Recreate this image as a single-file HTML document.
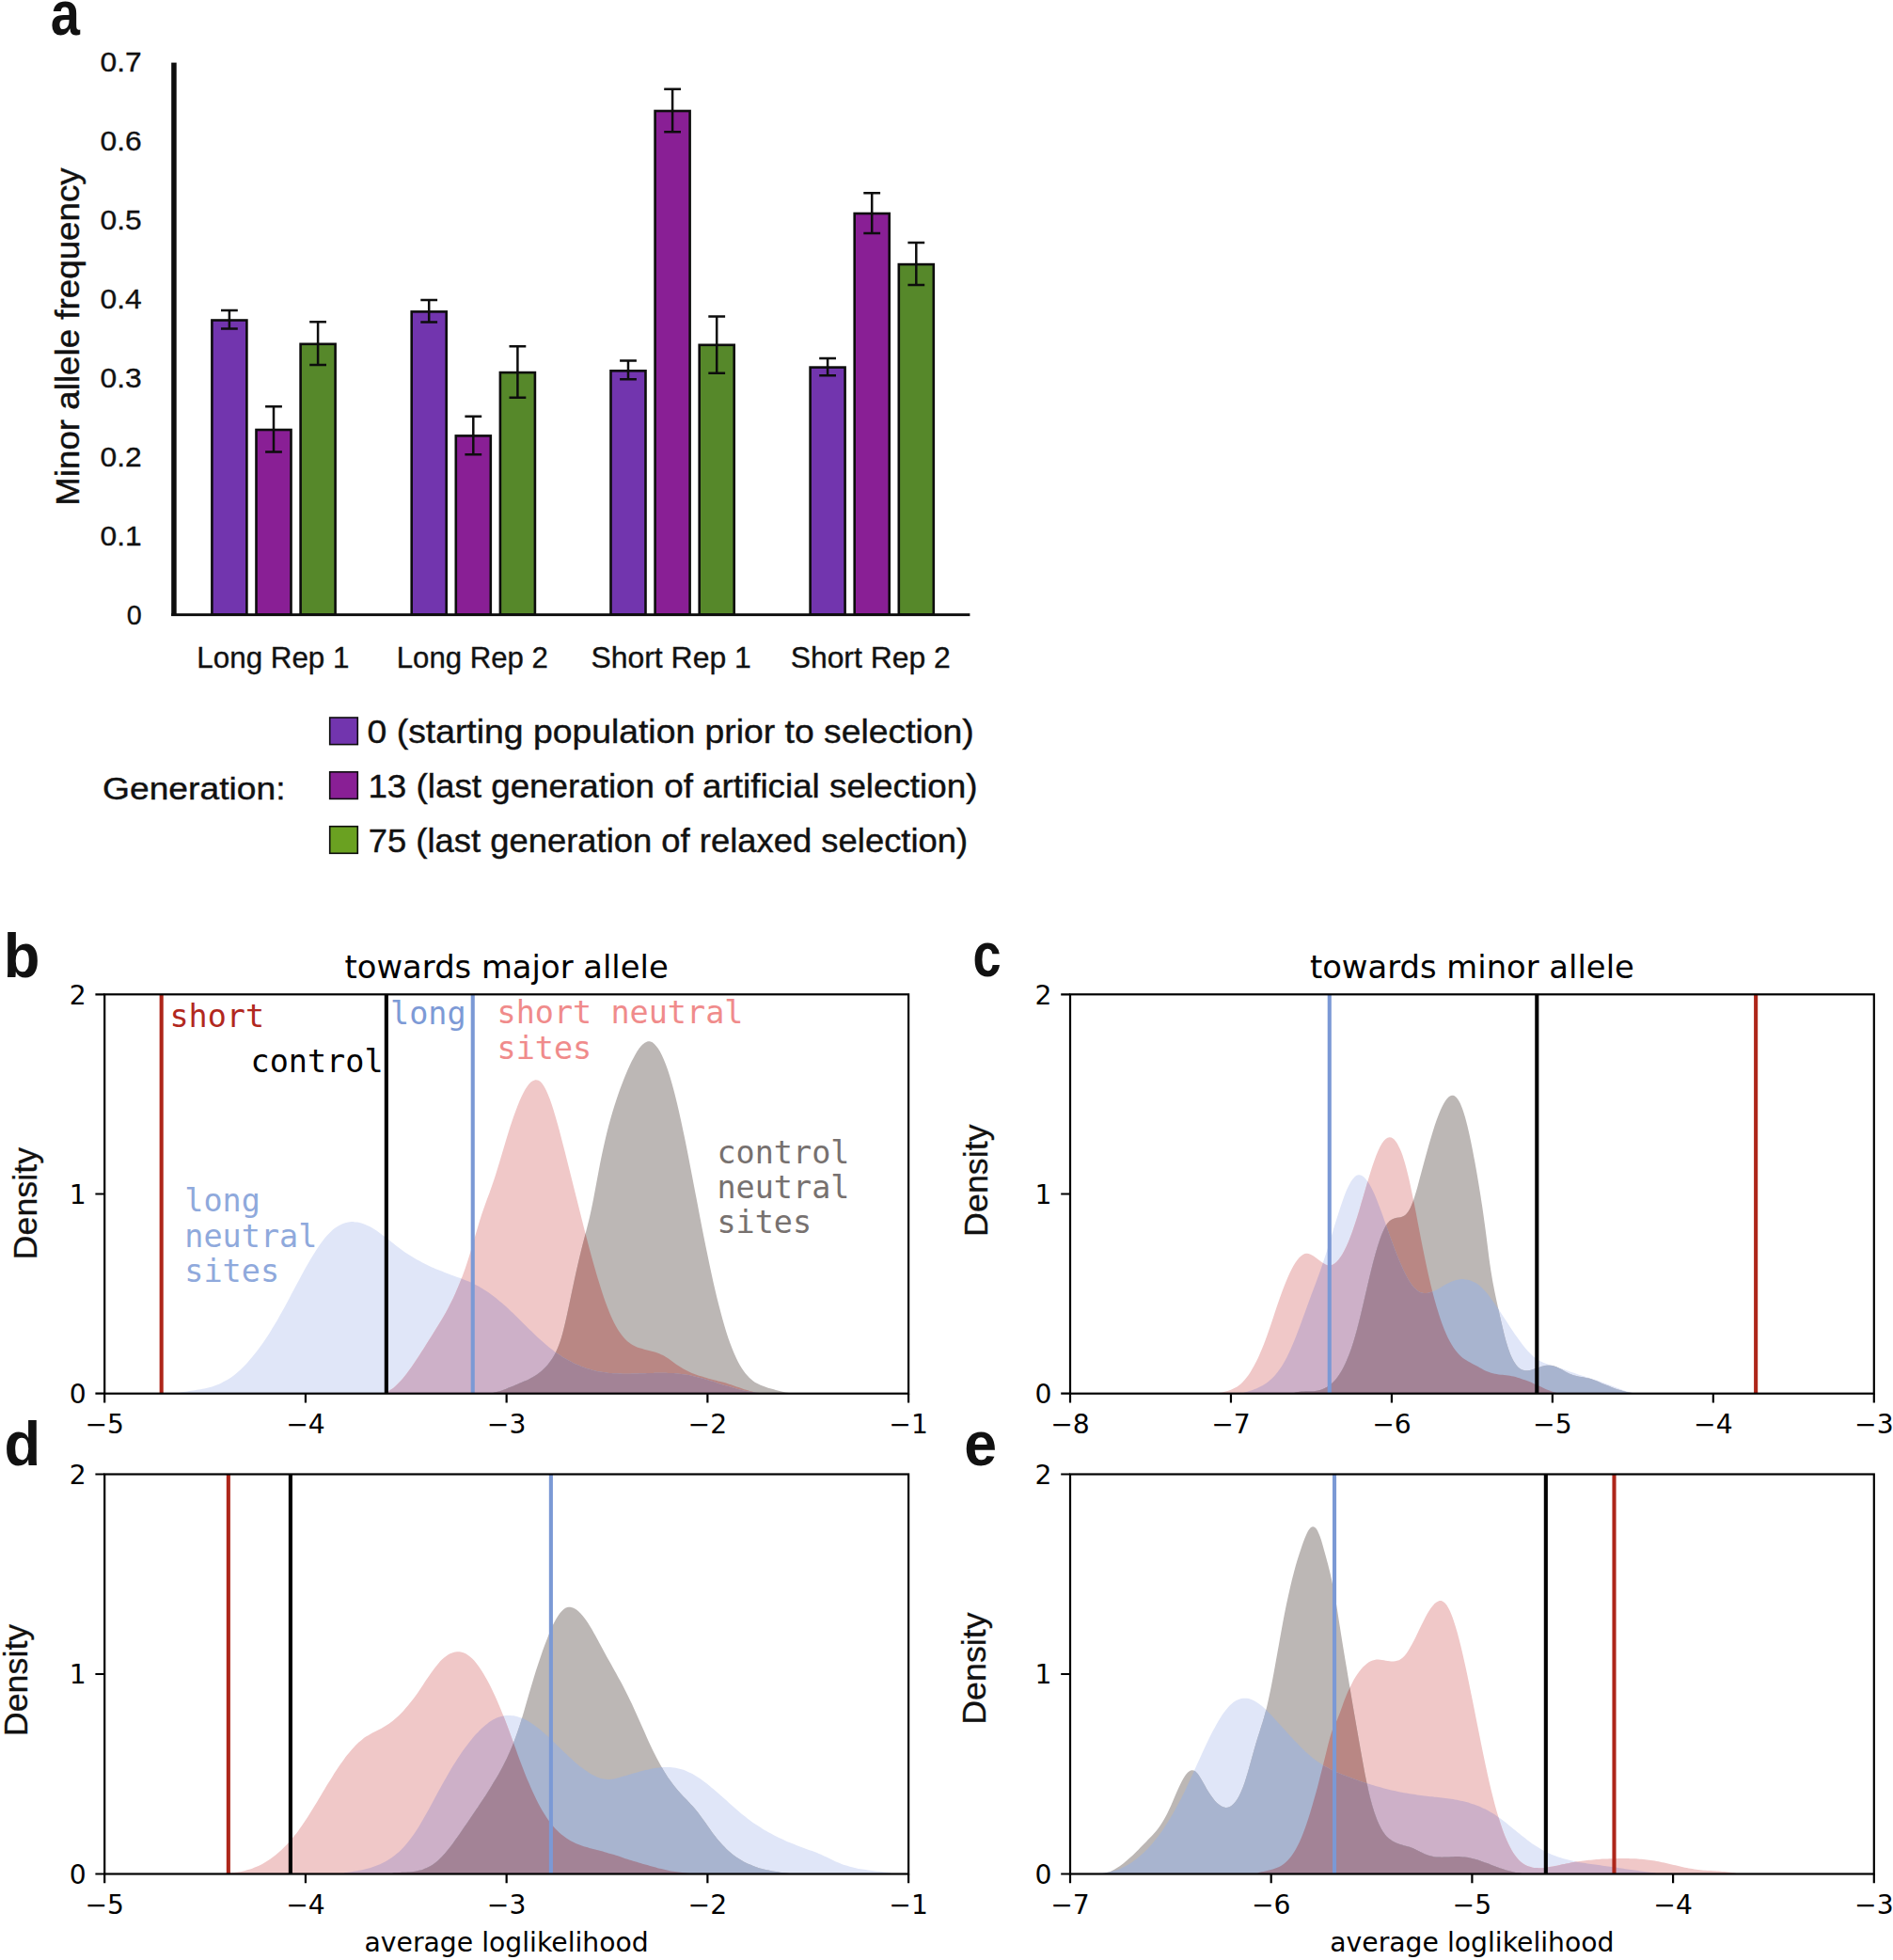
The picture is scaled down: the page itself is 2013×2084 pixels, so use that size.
<!DOCTYPE html>
<html lang="en">
<head>
<meta charset="utf-8">
<title>Minor allele frequency and loglikelihood density figure</title>
<style>
html,body{margin:0;padding:0;background:#fff;}
body{width:2013px;height:2084px;overflow:hidden;}
svg{display:block;}
text{white-space:pre;}
</style>
</head>
<body>
<svg width="2013" height="2084" viewBox="0 0 2013 2084">
<rect width="2013" height="2084" fill="#fff"/>
<g id="panel-a">
<rect x="225.4" y="340.5" width="37" height="313.1" fill="#7235AE" stroke="#0d0d0d" stroke-width="2.6"/>
<path d="M243.9 330.1V349.6M235 330.1H252.8M235 349.6H252.8" stroke="#0d0d0d" stroke-width="2.5" fill="none"/>
<rect x="272.5" y="457" width="37" height="196.6" fill="#891F95" stroke="#0d0d0d" stroke-width="2.6"/>
<path d="M291 432.3V480.6M282.1 432.3H299.9M282.1 480.6H299.9" stroke="#0d0d0d" stroke-width="2.5" fill="none"/>
<rect x="319.6" y="365.8" width="37" height="287.8" fill="#56882A" stroke="#0d0d0d" stroke-width="2.6"/>
<path d="M338.1 342.3V388M329.2 342.3H347M329.2 388H347" stroke="#0d0d0d" stroke-width="2.5" fill="none"/>
<rect x="437.7" y="331.4" width="37" height="322.2" fill="#7235AE" stroke="#0d0d0d" stroke-width="2.6"/>
<path d="M456.2 319.1V342.5M447.3 319.1H465.1M447.3 342.5H465.1" stroke="#0d0d0d" stroke-width="2.5" fill="none"/>
<rect x="484.8" y="463.4" width="37" height="190.2" fill="#891F95" stroke="#0d0d0d" stroke-width="2.6"/>
<path d="M503.3 442.8V483.3M494.4 442.8H512.2M494.4 483.3H512.2" stroke="#0d0d0d" stroke-width="2.5" fill="none"/>
<rect x="531.9" y="396.1" width="37" height="257.5" fill="#56882A" stroke="#0d0d0d" stroke-width="2.6"/>
<path d="M550.4 368.3V422.7M541.5 368.3H559.3M541.5 422.7H559.3" stroke="#0d0d0d" stroke-width="2.5" fill="none"/>
<rect x="649.5" y="394.3" width="37" height="259.3" fill="#7235AE" stroke="#0d0d0d" stroke-width="2.6"/>
<path d="M668 383.4V403.3M659.1 383.4H676.9M659.1 403.3H676.9" stroke="#0d0d0d" stroke-width="2.5" fill="none"/>
<rect x="696.6" y="118" width="37" height="535.6" fill="#891F95" stroke="#0d0d0d" stroke-width="2.6"/>
<path d="M715.1 94.8V140.2M706.2 94.8H724M706.2 140.2H724" stroke="#0d0d0d" stroke-width="2.5" fill="none"/>
<rect x="743.7" y="366.8" width="37" height="286.8" fill="#56882A" stroke="#0d0d0d" stroke-width="2.6"/>
<path d="M762.2 336.4V396.8M753.3 336.4H771.1M753.3 396.8H771.1" stroke="#0d0d0d" stroke-width="2.5" fill="none"/>
<rect x="861.6" y="390.6" width="37" height="263" fill="#7235AE" stroke="#0d0d0d" stroke-width="2.6"/>
<path d="M880.1 380.9V399.2M871.2 380.9H889M871.2 399.2H889" stroke="#0d0d0d" stroke-width="2.5" fill="none"/>
<rect x="908.7" y="227" width="37" height="426.6" fill="#891F95" stroke="#0d0d0d" stroke-width="2.6"/>
<path d="M927.2 205.2V248M918.3 205.2H936.1M918.3 248H936.1" stroke="#0d0d0d" stroke-width="2.5" fill="none"/>
<rect x="955.8" y="281.1" width="37" height="372.5" fill="#56882A" stroke="#0d0d0d" stroke-width="2.6"/>
<path d="M974.3 258V302.9M965.4 258H983.2M965.4 302.9H983.2" stroke="#0d0d0d" stroke-width="2.5" fill="none"/>
<rect x="182.2" y="66.6" width="5.5" height="588.4" fill="#0d0d0d"/>
<rect x="182.2" y="652.2" width="849.2" height="2.9" fill="#0d0d0d"/>
<text x="150.8" y="663.9" font-family="'Liberation Sans', sans-serif" font-size="29" fill="#111" text-anchor="end" textLength="16" lengthAdjust="spacingAndGlyphs" stroke="#111" stroke-width="0.35">0</text>
<text x="150.8" y="579.9" font-family="'Liberation Sans', sans-serif" font-size="29" fill="#111" text-anchor="end" textLength="44.2" lengthAdjust="spacingAndGlyphs" stroke="#111" stroke-width="0.35">0.1</text>
<text x="150.8" y="495.9" font-family="'Liberation Sans', sans-serif" font-size="29" fill="#111" text-anchor="end" textLength="44.2" lengthAdjust="spacingAndGlyphs" stroke="#111" stroke-width="0.35">0.2</text>
<text x="150.8" y="411.9" font-family="'Liberation Sans', sans-serif" font-size="29" fill="#111" text-anchor="end" textLength="44.2" lengthAdjust="spacingAndGlyphs" stroke="#111" stroke-width="0.35">0.3</text>
<text x="150.8" y="327.9" font-family="'Liberation Sans', sans-serif" font-size="29" fill="#111" text-anchor="end" textLength="44.2" lengthAdjust="spacingAndGlyphs" stroke="#111" stroke-width="0.35">0.4</text>
<text x="150.8" y="243.9" font-family="'Liberation Sans', sans-serif" font-size="29" fill="#111" text-anchor="end" textLength="44.2" lengthAdjust="spacingAndGlyphs" stroke="#111" stroke-width="0.35">0.5</text>
<text x="150.8" y="159.9" font-family="'Liberation Sans', sans-serif" font-size="29" fill="#111" text-anchor="end" textLength="44.2" lengthAdjust="spacingAndGlyphs" stroke="#111" stroke-width="0.35">0.6</text>
<text x="150.8" y="75.9" font-family="'Liberation Sans', sans-serif" font-size="29" fill="#111" text-anchor="end" textLength="44.2" lengthAdjust="spacingAndGlyphs" stroke="#111" stroke-width="0.35">0.7</text>
<text x="84" y="537.8" font-family="'Liberation Sans', sans-serif" font-size="34.5" fill="#111" textLength="359.5" lengthAdjust="spacingAndGlyphs" transform="rotate(-90 84 537.8)" stroke="#111" stroke-width="0.4">Minor allele frequency</text>
<text x="209.35" y="710.2" font-family="'Liberation Sans', sans-serif" font-size="31.8" fill="#111" textLength="162.1" lengthAdjust="spacingAndGlyphs" stroke="#111" stroke-width="0.35">Long Rep 1</text>
<text x="421.8" y="710.2" font-family="'Liberation Sans', sans-serif" font-size="31.8" fill="#111" textLength="161" lengthAdjust="spacingAndGlyphs" stroke="#111" stroke-width="0.35">Long Rep 2</text>
<text x="628.4" y="710.2" font-family="'Liberation Sans', sans-serif" font-size="31.8" fill="#111" textLength="170.4" lengthAdjust="spacingAndGlyphs" stroke="#111" stroke-width="0.35">Short Rep 1</text>
<text x="840.7" y="710.2" font-family="'Liberation Sans', sans-serif" font-size="31.8" fill="#111" textLength="170" lengthAdjust="spacingAndGlyphs" stroke="#111" stroke-width="0.35">Short Rep 2</text>
<rect x="350.7" y="763" width="29.6" height="28.6" fill="#7235AE" stroke="#0d0d0d" stroke-width="1.6"/>
<rect x="350.7" y="820.8" width="29.6" height="28.6" fill="#891F95" stroke="#0d0d0d" stroke-width="1.6"/>
<rect x="350.7" y="878.7" width="29.6" height="28.6" fill="#6AA121" stroke="#0d0d0d" stroke-width="1.6"/>
<text x="390.6" y="789.6" font-family="'Liberation Sans', sans-serif" font-size="34.2" fill="#111" textLength="645.2" lengthAdjust="spacingAndGlyphs" stroke="#111" stroke-width="0.4">0 (starting population prior to selection)</text>
<text x="391.4" y="847.7" font-family="'Liberation Sans', sans-serif" font-size="34.2" fill="#111" textLength="648" lengthAdjust="spacingAndGlyphs" stroke="#111" stroke-width="0.4">13 (last generation of artificial selection)</text>
<text x="391.7" y="905.8" font-family="'Liberation Sans', sans-serif" font-size="34.2" fill="#111" textLength="637.5" lengthAdjust="spacingAndGlyphs" stroke="#111" stroke-width="0.4">75 (last generation of relaxed selection)</text>
<text x="109" y="850.3" font-family="'Liberation Sans', sans-serif" font-size="33.2" fill="#111" textLength="194.5" lengthAdjust="spacingAndGlyphs" stroke="#111" stroke-width="0.4">Generation:</text>
<text x="53.86" y="37.2" font-family="'Liberation Sans', sans-serif" font-size="66" fill="#111" font-weight="bold" textLength="31.19" lengthAdjust="spacingAndGlyphs">a</text>
</g>
<g id="panel-b">
<clipPath id="clip-b"><rect x="111.2" y="1057.3" width="854.9" height="424.4"/></clipPath>
<g clip-path="url(#clip-b)">
<defs>
<path id="kb-blue" d="M187.16 1481.7L187.16 1481.63C187.83 1481.48 189.85 1480.99 191.19 1480.73C192.53 1480.47 193.87 1480.28 195.21 1480.06C196.55 1479.85 197.89 1479.65 199.24 1479.45C200.58 1479.25 201.92 1479.06 203.26 1478.86C204.6 1478.66 205.94 1478.46 207.28 1478.25C208.63 1478.03 209.97 1477.82 211.31 1477.58C212.65 1477.35 213.99 1477.1 215.33 1476.83C216.68 1476.55 218.02 1476.27 219.36 1475.95C220.7 1475.62 222.04 1475.28 223.38 1474.9C224.72 1474.52 226.07 1474.11 227.41 1473.66C228.75 1473.2 230.09 1472.72 231.43 1472.18C232.77 1471.64 234.11 1471.06 235.46 1470.43C236.8 1469.79 238.14 1469.11 239.48 1468.37C240.82 1467.63 242.16 1466.83 243.5 1465.97C244.85 1465.1 246.19 1464.18 247.53 1463.18C248.87 1462.19 250.21 1461.13 251.55 1460.01C252.89 1458.89 254.24 1457.7 255.58 1456.46C256.92 1455.21 258.26 1453.9 259.6 1452.53C260.94 1451.16 262.28 1449.73 263.63 1448.24C264.97 1446.75 266.31 1445.2 267.65 1443.59C268.99 1441.99 270.33 1440.32 271.67 1438.61C273.02 1436.89 274.36 1435.11 275.7 1433.28C277.04 1431.46 278.38 1429.57 279.72 1427.64C281.06 1425.7 282.41 1423.71 283.75 1421.67C285.09 1419.64 286.43 1417.54 287.77 1415.41C289.11 1413.27 290.45 1411.08 291.8 1408.84C293.14 1406.6 294.48 1404.32 295.82 1401.99C297.16 1399.66 298.5 1397.27 299.84 1394.86C301.19 1392.44 302.53 1389.98 303.87 1387.49C305.21 1385.01 306.55 1382.49 307.89 1379.97C309.23 1377.45 310.58 1374.9 311.92 1372.37C313.26 1369.83 314.6 1367.28 315.94 1364.76C317.28 1362.24 318.63 1359.71 319.97 1357.23C321.31 1354.74 322.65 1352.27 323.99 1349.85C325.33 1347.43 326.67 1345.04 328.02 1342.71C329.36 1340.38 330.7 1338.09 332.04 1335.88C333.38 1333.67 334.72 1331.51 336.06 1329.44C337.41 1327.37 338.75 1325.37 340.09 1323.47C341.43 1321.57 342.77 1319.75 344.11 1318.05C345.45 1316.35 346.8 1314.74 348.14 1313.26C349.48 1311.78 350.82 1310.41 352.16 1309.17C353.5 1307.93 354.84 1306.82 356.19 1305.82C357.53 1304.82 358.87 1303.95 360.21 1303.19C361.55 1302.42 362.89 1301.78 364.23 1301.24C365.58 1300.69 366.92 1300.26 368.26 1299.93C369.6 1299.6 370.94 1299.37 372.28 1299.24C373.62 1299.11 374.97 1299.07 376.31 1299.13C377.65 1299.18 378.99 1299.33 380.33 1299.56C381.67 1299.78 383.01 1300.1 384.36 1300.5C385.7 1300.89 387.04 1301.37 388.38 1301.91C389.72 1302.46 391.06 1303.08 392.4 1303.77C393.75 1304.45 395.09 1305.21 396.43 1306.02C397.77 1306.82 399.11 1307.7 400.45 1308.6C401.79 1309.5 403.14 1310.46 404.48 1311.43C405.82 1312.41 407.16 1313.43 408.5 1314.46C409.84 1315.48 411.18 1316.54 412.53 1317.6C413.87 1318.65 415.21 1319.72 416.55 1320.78C417.89 1321.84 419.23 1322.91 420.57 1323.95C421.92 1324.98 423.26 1326.02 424.6 1327.02C425.94 1328.01 427.28 1328.99 428.62 1329.93C429.97 1330.87 431.31 1331.79 432.65 1332.68C433.99 1333.57 435.33 1334.43 436.67 1335.27C438.01 1336.1 439.36 1336.91 440.7 1337.7C442.04 1338.49 443.38 1339.26 444.72 1340C446.06 1340.75 447.4 1341.47 448.75 1342.17C450.09 1342.87 451.43 1343.55 452.77 1344.22C454.11 1344.88 455.45 1345.52 456.79 1346.15C458.14 1346.78 459.48 1347.39 460.82 1347.98C462.16 1348.57 463.5 1349.15 464.84 1349.72C466.18 1350.28 467.53 1350.83 468.87 1351.37C470.21 1351.91 471.55 1352.43 472.89 1352.95C474.23 1353.46 475.57 1353.97 476.92 1354.46C478.26 1354.96 479.6 1355.44 480.94 1355.93C482.28 1356.41 483.62 1356.89 484.96 1357.38C486.31 1357.87 487.65 1358.35 488.99 1358.85C490.33 1359.35 491.67 1359.86 493.01 1360.38C494.35 1360.91 495.7 1361.45 497.04 1362.01C498.38 1362.57 499.72 1363.15 501.06 1363.77C502.4 1364.38 503.74 1365.01 505.09 1365.69C506.43 1366.36 507.77 1367.07 509.11 1367.81C510.45 1368.56 511.79 1369.34 513.13 1370.16C514.48 1370.98 515.82 1371.84 517.16 1372.73C518.5 1373.62 519.84 1374.54 521.18 1375.5C522.52 1376.46 523.87 1377.46 525.21 1378.48C526.55 1379.51 527.89 1380.57 529.23 1381.66C530.57 1382.75 531.92 1383.88 533.26 1385.03C534.6 1386.18 535.94 1387.37 537.28 1388.57C538.62 1389.78 539.96 1391.02 541.31 1392.27C542.65 1393.52 543.99 1394.8 545.33 1396.09C546.67 1397.38 548.01 1398.68 549.35 1399.99C550.7 1401.3 552.04 1402.63 553.38 1403.95C554.72 1405.28 556.06 1406.61 557.4 1407.94C558.74 1409.26 560.09 1410.6 561.43 1411.91C562.77 1413.23 564.11 1414.55 565.45 1415.85C566.79 1417.15 568.13 1418.45 569.48 1419.72C570.82 1420.99 572.16 1422.25 573.5 1423.49C574.84 1424.72 576.18 1425.93 577.52 1427.12C578.87 1428.3 580.21 1429.46 581.55 1430.58C582.89 1431.7 584.23 1432.8 585.57 1433.85C586.91 1434.9 588.26 1435.92 589.6 1436.91C590.94 1437.89 592.28 1438.84 593.62 1439.75C594.96 1440.67 596.3 1441.55 597.65 1442.39C598.99 1443.24 600.33 1444.05 601.67 1444.83C603.01 1445.62 604.35 1446.36 605.69 1447.08C607.04 1447.79 608.38 1448.48 609.72 1449.13C611.06 1449.78 612.4 1450.4 613.74 1450.99C615.08 1451.58 616.43 1452.14 617.77 1452.67C619.11 1453.2 620.45 1453.7 621.79 1454.17C623.13 1454.64 624.47 1455.08 625.82 1455.49C627.16 1455.91 628.5 1456.29 629.84 1456.65C631.18 1457 632.52 1457.33 633.87 1457.63C635.21 1457.93 636.55 1458.2 637.89 1458.45C639.23 1458.7 640.57 1458.92 641.91 1459.12C643.26 1459.32 644.6 1459.5 645.94 1459.65C647.28 1459.81 648.62 1459.94 649.96 1460.06C651.3 1460.18 652.65 1460.27 653.99 1460.35C655.33 1460.43 656.67 1460.5 658.01 1460.55C659.35 1460.6 660.69 1460.63 662.04 1460.65C663.38 1460.68 664.72 1460.69 666.06 1460.69C667.4 1460.69 668.74 1460.68 670.08 1460.66C671.43 1460.64 672.77 1460.62 674.11 1460.59C675.45 1460.55 676.79 1460.52 678.13 1460.48C679.47 1460.44 680.82 1460.39 682.16 1460.35C683.5 1460.3 684.84 1460.25 686.18 1460.21C687.52 1460.16 688.86 1460.12 690.21 1460.07C691.55 1460.03 692.89 1459.99 694.23 1459.96C695.57 1459.92 696.91 1459.89 698.25 1459.87C699.6 1459.85 700.94 1459.83 702.28 1459.83C703.62 1459.82 704.96 1459.83 706.3 1459.84C707.64 1459.86 708.99 1459.89 710.33 1459.93C711.67 1459.97 713.01 1460.02 714.35 1460.1C715.69 1460.17 717.03 1460.25 718.38 1460.36C719.72 1460.46 721.06 1460.59 722.4 1460.73C723.74 1460.88 725.08 1461.04 726.42 1461.22C727.77 1461.41 729.11 1461.62 730.45 1461.85C731.79 1462.08 733.13 1462.34 734.47 1462.62C735.82 1462.89 737.16 1463.19 738.5 1463.5C739.84 1463.81 741.18 1464.14 742.52 1464.48C743.86 1464.83 745.21 1465.19 746.55 1465.55C747.89 1465.92 749.23 1466.31 750.57 1466.7C751.91 1467.09 753.25 1467.49 754.6 1467.89C755.94 1468.3 757.28 1468.71 758.62 1469.12C759.96 1469.54 761.3 1469.96 762.64 1470.38C763.99 1470.8 765.33 1471.22 766.67 1471.64C768.01 1472.06 769.35 1472.48 770.69 1472.89C772.03 1473.3 773.38 1473.71 774.72 1474.11C776.06 1474.51 777.4 1474.9 778.74 1475.28C780.08 1475.67 781.42 1476.04 782.77 1476.4C784.11 1476.76 785.45 1477.11 786.79 1477.44C788.13 1477.77 789.47 1478.09 790.81 1478.39C792.16 1478.68 793.5 1478.97 794.84 1479.22C796.18 1479.48 797.52 1479.72 798.86 1479.93C800.2 1480.15 801.55 1480.34 802.89 1480.5C804.23 1480.67 805.57 1480.81 806.91 1480.92C808.25 1481.02 809.59 1481.05 810.94 1481.15C812.28 1481.26 814.29 1481.47 814.96 1481.54L814.96 1481.7Z"/>
<clipPath id="cp-kb-blue"><use href="#kb-blue"/></clipPath>
<path id="kb-pink" d="M400 1481.7L400 1481.19C400.67 1481.27 402.68 1481.7 404.01 1481.7C405.35 1481.7 406.69 1481.54 408.03 1481.21C409.37 1480.88 410.71 1480.35 412.04 1479.7C413.38 1479.06 414.72 1478.26 416.06 1477.34C417.4 1476.42 418.73 1475.36 420.07 1474.2C421.41 1473.04 422.75 1471.75 424.09 1470.37C425.42 1468.99 426.76 1467.5 428.1 1465.93C429.44 1464.36 430.78 1462.7 432.12 1460.97C433.45 1459.24 434.79 1457.42 436.13 1455.56C437.47 1453.7 438.81 1451.76 440.14 1449.79C441.48 1447.82 442.82 1445.8 444.16 1443.75C445.5 1441.7 446.83 1439.61 448.17 1437.51C449.51 1435.41 450.85 1433.28 452.19 1431.16C453.53 1429.04 454.86 1426.9 456.2 1424.78C457.54 1422.66 458.88 1420.56 460.22 1418.44C461.55 1416.32 462.89 1414.22 464.23 1412.07C465.57 1409.92 466.91 1407.76 468.24 1405.53C469.58 1403.29 470.92 1401.03 472.26 1398.68C473.6 1396.32 474.94 1393.92 476.27 1391.39C477.61 1388.87 478.95 1386.27 480.29 1383.53C481.63 1380.79 482.96 1377.96 484.3 1374.96C485.64 1371.97 486.98 1368.85 488.32 1365.55C489.65 1362.25 490.99 1358.81 492.33 1355.16C493.67 1351.51 495.01 1347.69 496.35 1343.65C497.68 1339.61 499.02 1335.3 500.36 1330.91C501.7 1326.53 503.04 1321.86 504.37 1317.32C505.71 1312.77 507.05 1308.09 508.39 1303.66C509.73 1299.24 511.06 1294.84 512.4 1290.78C513.74 1286.71 515.08 1282.98 516.42 1279.25C517.76 1275.52 519.09 1272.09 520.43 1268.39C521.77 1264.7 523.11 1261.05 524.45 1257.07C525.78 1253.09 527.12 1248.84 528.46 1244.52C529.8 1240.2 531.14 1235.64 532.47 1231.16C533.81 1226.68 535.15 1222.08 536.49 1217.65C537.83 1213.21 539.17 1208.78 540.5 1204.53C541.84 1200.27 543.18 1196.09 544.52 1192.11C545.86 1188.14 547.19 1184.28 548.53 1180.69C549.87 1177.09 551.21 1173.66 552.55 1170.54C553.88 1167.42 555.22 1164.51 556.56 1161.95C557.9 1159.4 559.24 1157.1 560.58 1155.21C561.91 1153.32 563.25 1151.74 564.59 1150.6C565.93 1149.46 567.27 1148.68 568.6 1148.39C569.94 1148.1 571.28 1148.22 572.62 1148.86C573.96 1149.51 575.29 1150.61 576.63 1152.28C577.97 1153.96 579.31 1156.2 580.65 1158.9C581.99 1161.61 583.32 1164.92 584.66 1168.53C586 1172.14 587.34 1176.25 588.68 1180.56C590.01 1184.86 591.35 1189.56 592.69 1194.36C594.03 1199.15 595.37 1204.23 596.7 1209.31C598.04 1214.39 599.38 1219.62 600.72 1224.85C602.06 1230.08 603.4 1235.38 604.73 1240.7C606.07 1246.02 607.41 1251.38 608.75 1256.74C610.09 1262.1 611.42 1267.48 612.76 1272.83C614.1 1278.19 615.44 1283.55 616.78 1288.85C618.11 1294.16 619.45 1299.45 620.79 1304.67C622.13 1309.88 623.47 1315.06 624.81 1320.14C626.14 1325.22 627.48 1330.25 628.82 1335.14C630.16 1340.03 631.5 1344.85 632.83 1349.5C634.17 1354.16 635.51 1358.71 636.85 1363.07C638.19 1367.44 639.52 1371.67 640.86 1375.68C642.2 1379.7 643.54 1383.56 644.88 1387.18C646.22 1390.8 647.55 1394.23 648.89 1397.4C650.23 1400.57 651.57 1403.51 652.91 1406.18C654.24 1408.85 655.58 1411.25 656.92 1413.43C658.26 1415.61 659.6 1417.53 660.94 1419.27C662.27 1421.02 663.61 1422.53 664.95 1423.89C666.29 1425.26 667.63 1426.42 668.96 1427.46C670.3 1428.5 671.64 1429.37 672.98 1430.15C674.32 1430.93 675.65 1431.57 676.99 1432.15C678.33 1432.73 679.67 1433.19 681.01 1433.62C682.35 1434.05 683.68 1434.4 685.02 1434.75C686.36 1435.09 687.7 1435.38 689.04 1435.69C690.37 1436.01 691.71 1436.29 693.05 1436.63C694.39 1436.97 695.73 1437.31 697.06 1437.74C698.4 1438.16 699.74 1438.61 701.08 1439.18C702.42 1439.74 703.76 1440.39 705.09 1441.12C706.43 1441.86 707.77 1442.7 709.11 1443.58C710.45 1444.45 711.78 1445.4 713.12 1446.35C714.46 1447.29 715.8 1448.29 717.14 1449.24C718.47 1450.2 719.81 1451.17 721.15 1452.06C722.49 1452.95 723.83 1453.81 725.17 1454.61C726.5 1455.41 727.84 1456.14 729.18 1456.84C730.52 1457.54 731.86 1458.18 733.19 1458.79C734.53 1459.41 735.87 1459.97 737.21 1460.5C738.55 1461.04 739.88 1461.54 741.22 1462.01C742.56 1462.48 743.9 1462.92 745.24 1463.34C746.58 1463.76 747.91 1464.16 749.25 1464.54C750.59 1464.93 751.93 1465.29 753.27 1465.65C754.6 1466.01 755.94 1466.35 757.28 1466.7C758.62 1467.04 759.96 1467.38 761.29 1467.72C762.63 1468.07 763.97 1468.41 765.31 1468.76C766.65 1469.12 767.99 1469.48 769.32 1469.86C770.66 1470.24 772 1470.63 773.34 1471.04C774.68 1471.45 776.01 1471.89 777.35 1472.33C778.69 1472.77 780.03 1473.24 781.37 1473.7C782.7 1474.15 784.04 1474.62 785.38 1475.08C786.72 1475.54 788.06 1476.01 789.4 1476.45C790.73 1476.89 792.07 1477.33 793.41 1477.74C794.75 1478.15 796.09 1478.55 797.42 1478.91C798.76 1479.27 800.1 1479.61 801.44 1479.91C802.78 1480.21 804.11 1480.48 805.45 1480.69C806.79 1480.91 808.13 1481.09 809.47 1481.21C810.81 1481.33 812.14 1481.35 813.48 1481.41C814.82 1481.46 816.83 1481.52 817.5 1481.54L817.5 1481.7Z"/>
<clipPath id="cp-kb-pink"><use href="#kb-pink"/></clipPath>
<path id="kb-grey" d="M514.1 1481.7L514.1 1481.7C514.78 1481.68 516.8 1481.7 518.14 1481.63C519.49 1481.55 520.83 1481.41 522.18 1481.21C523.52 1481.02 524.87 1480.76 526.22 1480.46C527.56 1480.16 528.91 1479.81 530.25 1479.43C531.6 1479.04 532.94 1478.61 534.29 1478.16C535.64 1477.7 536.98 1477.21 538.33 1476.7C539.67 1476.2 541.02 1475.66 542.36 1475.12C543.71 1474.57 545.06 1474.01 546.4 1473.45C547.75 1472.89 549.09 1472.31 550.44 1471.75C551.79 1471.19 553.13 1470.63 554.48 1470.07C555.82 1469.5 557.17 1468.95 558.51 1468.35C559.86 1467.76 561.21 1467.15 562.55 1466.49C563.9 1465.82 565.24 1465.13 566.59 1464.35C567.93 1463.58 569.28 1462.76 570.63 1461.83C571.97 1460.9 573.32 1459.91 574.66 1458.79C576.01 1457.67 577.35 1456.46 578.7 1455.11C580.05 1453.76 581.39 1452.32 582.74 1450.68C584.08 1449.05 585.43 1447.38 586.77 1445.32C588.12 1443.25 589.47 1441.08 590.81 1438.29C592.16 1435.5 593.5 1432.43 594.85 1428.58C596.19 1424.72 597.54 1420.25 598.89 1415.15C600.23 1410.06 601.58 1404.04 602.92 1398.01C604.27 1391.97 605.61 1385.29 606.96 1378.94C608.31 1372.6 609.65 1366.08 611 1359.93C612.34 1353.78 613.69 1347.81 615.03 1342.05C616.38 1336.29 617.73 1330.75 619.07 1325.37C620.42 1320 621.76 1315.1 623.11 1309.8C624.45 1304.5 625.8 1299.52 627.15 1293.57C628.49 1287.63 629.84 1280.98 631.18 1274.14C632.53 1267.29 633.87 1259.59 635.22 1252.48C636.57 1245.37 637.91 1238.07 639.26 1231.47C640.6 1224.88 641.95 1218.71 643.29 1212.89C644.64 1207.07 645.99 1201.69 647.33 1196.57C648.68 1191.45 650.02 1186.71 651.37 1182.18C652.71 1177.65 654.06 1173.44 655.41 1169.38C656.75 1165.33 658.1 1161.53 659.44 1157.84C660.79 1154.15 662.14 1150.63 663.48 1147.26C664.83 1143.88 666.17 1140.65 667.52 1137.58C668.86 1134.52 670.21 1131.59 671.56 1128.86C672.9 1126.12 674.25 1123.51 675.59 1121.18C676.94 1118.85 678.28 1116.69 679.63 1114.87C680.98 1113.04 682.32 1111.45 683.67 1110.25C685.01 1109.05 686.36 1108.14 687.7 1107.68C689.05 1107.22 690.4 1107.14 691.74 1107.5C693.09 1107.87 694.43 1108.67 695.78 1109.88C697.12 1111.09 698.47 1112.72 699.82 1114.74C701.16 1116.77 702.51 1119.2 703.85 1122.01C705.2 1124.81 706.54 1128.01 707.89 1131.57C709.24 1135.13 710.58 1139.07 711.93 1143.34C713.27 1147.62 714.62 1152.27 715.96 1157.24C717.31 1162.21 718.66 1167.55 720 1173.15C721.35 1178.76 722.69 1184.73 724.04 1190.88C725.38 1197.03 726.73 1203.48 728.08 1210.04C729.42 1216.61 730.77 1223.41 732.11 1230.26C733.46 1237.12 734.8 1244.15 736.15 1251.17C737.5 1258.18 738.84 1265.31 740.19 1272.36C741.53 1279.42 742.88 1286.52 744.22 1293.48C745.57 1300.45 746.92 1307.38 748.26 1314.15C749.61 1320.92 750.95 1327.61 752.3 1334.12C753.64 1340.62 754.99 1347.01 756.34 1353.19C757.68 1359.36 759.03 1365.39 760.37 1371.17C761.72 1376.95 763.06 1382.55 764.41 1387.87C765.76 1393.19 767.1 1398.3 768.45 1403.1C769.79 1407.9 771.14 1412.44 772.49 1416.69C773.83 1420.93 775.18 1424.9 776.52 1428.59C777.87 1432.29 779.21 1435.7 780.56 1438.85C781.91 1442 783.25 1444.87 784.6 1447.48C785.94 1450.1 787.29 1452.43 788.63 1454.55C789.98 1456.68 791.33 1458.54 792.67 1460.23C794.02 1461.92 795.36 1463.37 796.71 1464.69C798.05 1466.01 799.4 1467.13 800.75 1468.15C802.09 1469.16 803.44 1470 804.78 1470.77C806.13 1471.54 807.47 1472.18 808.82 1472.77C810.17 1473.36 811.51 1473.85 812.86 1474.32C814.2 1474.8 815.55 1475.21 816.89 1475.63C818.24 1476.05 819.59 1476.45 820.93 1476.85C822.28 1477.25 823.62 1477.64 824.97 1478.01C826.31 1478.38 827.66 1478.74 829.01 1479.07C830.35 1479.4 831.7 1479.71 833.04 1479.99C834.39 1480.27 835.73 1480.52 837.08 1480.73C838.43 1480.94 839.77 1481.11 841.12 1481.24C842.46 1481.37 843.81 1481.45 845.15 1481.5C846.5 1481.55 848.52 1481.53 849.19 1481.54L849.19 1481.7Z"/>
<clipPath id="cp-kb-grey"><use href="#kb-grey"/></clipPath>
</defs>
<use href="#kb-blue" fill="#E0E6F8"/>
<use href="#kb-pink" fill="#F0C8C8"/>
<use href="#kb-grey" fill="#BCB7B5"/>
<use href="#kb-pink" clip-path="url(#cp-kb-blue)" fill="#CDB0C8"/>
<use href="#kb-grey" clip-path="url(#cp-kb-pink)" fill="#B98784"/>
<use href="#kb-grey" clip-path="url(#cp-kb-blue)" fill="#A8B4CF"/>
<g clip-path="url(#cp-kb-blue)"><use href="#kb-grey" clip-path="url(#cp-kb-pink)" fill="#A38396"/></g>
<line x1="171.68" y1="1057.3" x2="171.68" y2="1481.7" stroke="#AE261A" stroke-width="4.1"/>
<line x1="410.84" y1="1057.3" x2="410.84" y2="1481.7" stroke="#000" stroke-width="4.1"/>
<line x1="502.74" y1="1057.3" x2="502.74" y2="1481.7" stroke="#7B99D5" stroke-width="4.1"/>
</g>
<rect x="111.2" y="1057.3" width="854.9" height="424.4" fill="none" stroke="#000" stroke-width="2.2"/>
<text x="111.2" y="1523.9" font-family="'DejaVu Sans', 'Liberation Sans', sans-serif" font-size="28.2" fill="#000" text-anchor="middle">−5</text>
<text x="324.93" y="1523.9" font-family="'DejaVu Sans', 'Liberation Sans', sans-serif" font-size="28.2" fill="#000" text-anchor="middle">−4</text>
<text x="538.65" y="1523.9" font-family="'DejaVu Sans', 'Liberation Sans', sans-serif" font-size="28.2" fill="#000" text-anchor="middle">−3</text>
<text x="752.38" y="1523.9" font-family="'DejaVu Sans', 'Liberation Sans', sans-serif" font-size="28.2" fill="#000" text-anchor="middle">−2</text>
<text x="966.1" y="1523.9" font-family="'DejaVu Sans', 'Liberation Sans', sans-serif" font-size="28.2" fill="#000" text-anchor="middle">−1</text>
<text x="91.6" y="1492.1" font-family="'DejaVu Sans', 'Liberation Sans', sans-serif" font-size="28.2" fill="#000" text-anchor="end">0</text>
<text x="91.6" y="1279.9" font-family="'DejaVu Sans', 'Liberation Sans', sans-serif" font-size="28.2" fill="#000" text-anchor="end">1</text>
<text x="91.6" y="1067.7" font-family="'DejaVu Sans', 'Liberation Sans', sans-serif" font-size="28.2" fill="#000" text-anchor="end">2</text>
<path d="M111.2 1481.7v9.8M324.93 1481.7v9.8M538.65 1481.7v9.8M752.38 1481.7v9.8M966.1 1481.7v9.8M111.2 1481.7h-9.8M111.2 1269.5h-9.8M111.2 1057.3h-9.8" stroke="#000" stroke-width="2.2" fill="none"/>
<text x="538.65" y="1039.7" font-family="'DejaVu Sans', 'Liberation Sans', sans-serif" font-size="33.8" fill="#000" text-anchor="middle">towards major allele</text>
<text x="38.8" y="1339.4" font-family="'Liberation Sans', sans-serif" font-size="35" fill="#111" textLength="119.5" lengthAdjust="spacingAndGlyphs" transform="rotate(-90 38.8 1339.4)" stroke="#111" stroke-width="0.3">Density</text>
<text x="3.72" y="1038.8" font-family="'Liberation Sans', sans-serif" font-size="66" fill="#111" font-weight="bold" textLength="38.71" lengthAdjust="spacingAndGlyphs">b</text>
</g>
<g id="panel-c">
<clipPath id="clip-c"><rect x="1138" y="1057.3" width="854.8" height="424.4"/></clipPath>
<g clip-path="url(#clip-c)">
<defs>
<path id="kc-blue" d="M1320.42 1481.7L1320.42 1481.47C1321.09 1481.27 1323.09 1480.67 1324.43 1480.26C1325.76 1479.85 1327.1 1479.45 1328.44 1479.02C1329.77 1478.59 1331.11 1478.17 1332.44 1477.69C1333.78 1477.21 1335.11 1476.72 1336.45 1476.15C1337.78 1475.59 1339.12 1474.99 1340.45 1474.3C1341.79 1473.61 1343.13 1472.87 1344.46 1472.02C1345.8 1471.16 1347.13 1470.24 1348.47 1469.19C1349.8 1468.14 1351.14 1466.99 1352.47 1465.7C1353.81 1464.41 1355.15 1463.02 1356.48 1461.45C1357.82 1459.89 1359.15 1458.19 1360.49 1456.32C1361.82 1454.44 1363.16 1452.41 1364.49 1450.18C1365.83 1447.95 1367.16 1445.56 1368.5 1442.94C1369.84 1440.33 1371.17 1437.49 1372.51 1434.5C1373.84 1431.51 1375.18 1428.29 1376.51 1424.99C1377.85 1421.69 1379.18 1418.21 1380.52 1414.69C1381.86 1411.18 1383.19 1407.53 1384.53 1403.9C1385.86 1400.27 1387.2 1396.55 1388.53 1392.89C1389.87 1389.23 1391.2 1385.56 1392.54 1381.95C1393.87 1378.35 1395.21 1374.82 1396.55 1371.25C1397.88 1367.67 1399.22 1364.15 1400.55 1360.51C1401.89 1356.87 1403.22 1353.22 1404.56 1349.4C1405.89 1345.58 1407.23 1341.66 1408.57 1337.58C1409.9 1333.49 1411.24 1329.2 1412.57 1324.9C1413.91 1320.59 1415.24 1316.13 1416.58 1311.74C1417.91 1307.36 1419.25 1302.89 1420.58 1298.58C1421.92 1294.28 1423.26 1289.96 1424.59 1285.89C1425.93 1281.83 1427.26 1277.82 1428.6 1274.19C1429.93 1270.55 1431.27 1267.07 1432.6 1264.07C1433.94 1261.08 1435.28 1258.34 1436.61 1256.19C1437.95 1254.04 1439.28 1252.31 1440.62 1251.15C1441.95 1250 1443.29 1249.41 1444.62 1249.27C1445.96 1249.12 1447.29 1249.51 1448.63 1250.28C1449.97 1251.05 1451.3 1252.3 1452.64 1253.89C1453.97 1255.47 1455.31 1257.49 1456.64 1259.78C1457.98 1262.08 1459.31 1264.77 1460.65 1267.66C1461.99 1270.56 1463.32 1273.81 1464.66 1277.16C1465.99 1280.51 1467.33 1284.14 1468.66 1287.78C1470 1291.43 1471.33 1295.26 1472.67 1299.03C1474 1302.81 1475.34 1306.66 1476.68 1310.41C1478.01 1314.16 1479.35 1317.9 1480.68 1321.52C1482.02 1325.14 1483.35 1328.71 1484.69 1332.13C1486.02 1335.54 1487.36 1338.87 1488.7 1342.01C1490.03 1345.15 1491.37 1348.17 1492.7 1350.96C1494.04 1353.75 1495.37 1356.39 1496.71 1358.76C1498.04 1361.13 1499.38 1363.31 1500.71 1365.18C1502.05 1367.06 1503.39 1368.69 1504.72 1370.02C1506.06 1371.35 1507.39 1372.36 1508.73 1373.14C1510.06 1373.93 1511.4 1374.42 1512.73 1374.73C1514.07 1375.05 1515.41 1375.11 1516.74 1375.04C1518.08 1374.97 1519.41 1374.69 1520.75 1374.32C1522.08 1373.94 1523.42 1373.4 1524.75 1372.81C1526.09 1372.22 1527.42 1371.49 1528.76 1370.77C1530.1 1370.04 1531.43 1369.22 1532.77 1368.44C1534.1 1367.66 1535.44 1366.83 1536.77 1366.08C1538.11 1365.32 1539.44 1364.57 1540.78 1363.92C1542.12 1363.28 1543.45 1362.69 1544.79 1362.19C1546.12 1361.7 1547.46 1361.28 1548.79 1360.95C1550.13 1360.63 1551.46 1360.39 1552.8 1360.26C1554.13 1360.12 1555.47 1360.08 1556.81 1360.15C1558.14 1360.22 1559.48 1360.39 1560.81 1360.69C1562.15 1360.98 1563.48 1361.38 1564.82 1361.91C1566.15 1362.44 1567.49 1363.09 1568.83 1363.87C1570.16 1364.66 1571.5 1365.57 1572.83 1366.62C1574.17 1367.68 1575.5 1368.88 1576.84 1370.21C1578.17 1371.54 1579.51 1373.03 1580.84 1374.61C1582.18 1376.19 1583.52 1377.91 1584.85 1379.68C1586.19 1381.45 1587.52 1383.33 1588.86 1385.24C1590.19 1387.15 1591.53 1389.13 1592.86 1391.12C1594.2 1393.11 1595.54 1395.15 1596.87 1397.19C1598.21 1399.22 1599.54 1401.29 1600.88 1403.34C1602.21 1405.38 1603.55 1407.45 1604.88 1409.47C1606.22 1411.5 1607.55 1413.53 1608.89 1415.5C1610.23 1417.48 1611.56 1419.44 1612.9 1421.33C1614.23 1423.23 1615.57 1425.09 1616.9 1426.86C1618.24 1428.64 1619.57 1430.37 1620.91 1432.01C1622.25 1433.64 1623.58 1435.21 1624.92 1436.66C1626.25 1438.12 1627.59 1439.49 1628.92 1440.74C1630.26 1441.99 1631.59 1443.13 1632.93 1444.14C1634.26 1445.15 1635.6 1446.02 1636.94 1446.79C1638.27 1447.57 1639.61 1448.2 1640.94 1448.79C1642.28 1449.38 1643.61 1449.86 1644.95 1450.32C1646.28 1450.78 1647.62 1451.16 1648.96 1451.55C1650.29 1451.95 1651.63 1452.3 1652.96 1452.69C1654.3 1453.08 1655.63 1453.48 1656.97 1453.91C1658.3 1454.34 1659.64 1454.8 1660.97 1455.27C1662.31 1455.73 1663.65 1456.23 1664.98 1456.71C1666.32 1457.2 1667.65 1457.69 1668.99 1458.17C1670.32 1458.66 1671.66 1459.13 1672.99 1459.59C1674.33 1460.06 1675.67 1460.5 1677 1460.95C1678.34 1461.39 1679.67 1461.82 1681.01 1462.25C1682.34 1462.68 1683.68 1463.1 1685.01 1463.53C1686.35 1463.95 1687.68 1464.37 1689.02 1464.79C1690.36 1465.21 1691.69 1465.63 1693.03 1466.06C1694.36 1466.49 1695.7 1466.92 1697.03 1467.36C1698.37 1467.81 1699.7 1468.25 1701.04 1468.71C1702.38 1469.17 1703.71 1469.64 1705.05 1470.13C1706.38 1470.61 1707.72 1471.11 1709.05 1471.63C1710.39 1472.14 1711.72 1472.67 1713.06 1473.2C1714.39 1473.73 1715.73 1474.27 1717.07 1474.8C1718.4 1475.33 1719.74 1475.86 1721.07 1476.37C1722.41 1476.87 1723.74 1477.37 1725.08 1477.84C1726.41 1478.3 1727.75 1478.75 1729.09 1479.16C1730.42 1479.56 1731.76 1479.94 1733.09 1480.26C1734.43 1480.58 1735.76 1480.87 1737.1 1481.1C1738.43 1481.32 1739.77 1481.5 1741.1 1481.6C1742.44 1481.7 1743.78 1481.68 1745.11 1481.7C1746.45 1481.7 1748.45 1481.7 1749.12 1481.7L1749.12 1481.7Z"/>
<clipPath id="cp-kc-blue"><use href="#kc-blue"/></clipPath>
<path id="kc-pink" d="M1293.47 1481.7L1293.47 1481.47C1294.14 1481.36 1296.14 1481.03 1297.48 1480.79C1298.81 1480.54 1300.14 1480.3 1301.48 1480C1302.81 1479.69 1304.15 1479.38 1305.48 1478.97C1306.81 1478.57 1308.15 1478.12 1309.48 1477.56C1310.82 1477 1312.15 1476.37 1313.48 1475.6C1314.82 1474.83 1316.15 1473.96 1317.49 1472.93C1318.82 1471.9 1320.15 1470.75 1321.49 1469.4C1322.82 1468.05 1324.16 1466.55 1325.49 1464.84C1326.82 1463.14 1328.16 1461.24 1329.49 1459.15C1330.83 1457.07 1332.16 1454.79 1333.49 1452.32C1334.83 1449.86 1336.16 1447.21 1337.5 1444.38C1338.83 1441.55 1340.16 1438.53 1341.5 1435.33C1342.83 1432.14 1344.17 1428.76 1345.5 1425.21C1346.83 1421.66 1348.17 1417.89 1349.5 1414.04C1350.83 1410.2 1352.17 1406.14 1353.5 1402.15C1354.84 1398.16 1356.17 1394.06 1357.5 1390.12C1358.84 1386.19 1360.17 1382.26 1361.51 1378.53C1362.84 1374.8 1364.17 1371.16 1365.51 1367.73C1366.84 1364.3 1368.18 1361.01 1369.51 1357.96C1370.84 1354.92 1372.18 1352.04 1373.51 1349.46C1374.85 1346.87 1376.18 1344.5 1377.51 1342.45C1378.85 1340.41 1380.18 1338.61 1381.52 1337.19C1382.85 1335.76 1384.18 1334.62 1385.52 1333.89C1386.85 1333.16 1388.19 1332.82 1389.52 1332.79C1390.85 1332.76 1392.19 1333.18 1393.52 1333.72C1394.86 1334.26 1396.19 1335.13 1397.52 1336.02C1398.86 1336.9 1400.19 1338.01 1401.53 1339.02C1402.86 1340.02 1404.19 1341.14 1405.53 1342.04C1406.86 1342.94 1408.2 1343.85 1409.53 1344.42C1410.86 1344.99 1412.2 1345.45 1413.53 1345.47C1414.87 1345.5 1416.2 1345.22 1417.53 1344.57C1418.87 1343.92 1420.2 1342.89 1421.54 1341.56C1422.87 1340.22 1424.2 1338.54 1425.54 1336.56C1426.87 1334.59 1428.21 1332.28 1429.54 1329.71C1430.87 1327.14 1432.21 1324.25 1433.54 1321.13C1434.88 1318 1436.21 1314.59 1437.54 1310.95C1438.88 1307.31 1440.21 1303.39 1441.55 1299.3C1442.88 1295.21 1444.21 1290.81 1445.55 1286.39C1446.88 1281.96 1448.21 1277.31 1449.55 1272.75C1450.88 1268.19 1452.22 1263.5 1453.55 1259.02C1454.88 1254.53 1456.22 1250.03 1457.55 1245.83C1458.89 1241.63 1460.22 1237.52 1461.55 1233.82C1462.89 1230.11 1464.22 1226.61 1465.56 1223.62C1466.89 1220.62 1468.22 1217.96 1469.56 1215.86C1470.89 1213.76 1472.23 1212.12 1473.56 1211.02C1474.89 1209.92 1476.23 1209.31 1477.56 1209.26C1478.9 1209.2 1480.23 1209.65 1481.56 1210.67C1482.9 1211.69 1484.23 1213.25 1485.57 1215.38C1486.9 1217.52 1488.23 1220.21 1489.57 1223.5C1490.9 1226.8 1492.24 1230.66 1493.57 1235.14C1494.9 1239.63 1496.24 1244.8 1497.57 1250.39C1498.91 1255.98 1500.24 1262.28 1501.57 1268.69C1502.91 1275.11 1504.24 1282.03 1505.58 1288.87C1506.91 1295.7 1508.24 1302.82 1509.58 1309.69C1510.91 1316.56 1512.25 1323.49 1513.58 1330.09C1514.91 1336.69 1516.25 1343.19 1517.58 1349.29C1518.92 1355.39 1520.25 1361.21 1521.58 1366.69C1522.92 1372.17 1524.25 1377.32 1525.59 1382.17C1526.92 1387.02 1528.25 1391.56 1529.59 1395.8C1530.92 1400.04 1532.26 1403.98 1533.59 1407.63C1534.92 1411.28 1536.26 1414.63 1537.59 1417.71C1538.93 1420.79 1540.26 1423.58 1541.59 1426.1C1542.93 1428.63 1544.26 1430.86 1545.59 1432.86C1546.93 1434.86 1548.26 1436.56 1549.6 1438.11C1550.93 1439.65 1552.26 1440.94 1553.6 1442.13C1554.93 1443.32 1556.27 1444.31 1557.6 1445.24C1558.93 1446.17 1560.27 1446.96 1561.6 1447.74C1562.94 1448.52 1564.27 1449.21 1565.6 1449.94C1566.94 1450.67 1568.27 1451.38 1569.61 1452.1C1570.94 1452.83 1572.27 1453.57 1573.61 1454.3C1574.94 1455.02 1576.28 1455.75 1577.61 1456.43C1578.94 1457.1 1580.28 1457.76 1581.61 1458.33C1582.95 1458.9 1584.28 1459.43 1585.61 1459.85C1586.95 1460.27 1588.28 1460.58 1589.62 1460.85C1590.95 1461.11 1592.28 1461.27 1593.62 1461.43C1594.95 1461.59 1596.29 1461.69 1597.62 1461.81C1598.95 1461.94 1600.29 1462.04 1601.62 1462.21C1602.96 1462.37 1604.29 1462.56 1605.62 1462.8C1606.96 1463.03 1608.29 1463.31 1609.63 1463.62C1610.96 1463.93 1612.29 1464.28 1613.63 1464.66C1614.96 1465.04 1616.3 1465.45 1617.63 1465.89C1618.96 1466.33 1620.3 1466.8 1621.63 1467.29C1622.97 1467.78 1624.3 1468.29 1625.63 1468.83C1626.97 1469.36 1628.3 1469.92 1629.64 1470.49C1630.97 1471.07 1632.3 1471.66 1633.64 1472.26C1634.97 1472.86 1636.31 1473.48 1637.64 1474.09C1638.97 1474.7 1640.31 1475.33 1641.64 1475.92C1642.97 1476.51 1644.31 1477.1 1645.64 1477.64C1646.98 1478.19 1648.31 1478.71 1649.64 1479.18C1650.98 1479.64 1652.31 1480.07 1653.65 1480.43C1654.98 1480.78 1656.31 1481.09 1657.65 1481.3C1658.98 1481.51 1660.32 1481.63 1661.65 1481.7C1662.98 1481.7 1664.99 1481.7 1665.65 1481.7L1665.65 1481.7Z"/>
<clipPath id="cp-kc-pink"><use href="#kc-pink"/></clipPath>
<path id="kc-grey" d="M1374.32 1481.7L1374.32 1481.47C1374.99 1481.3 1377.01 1480.73 1378.36 1480.45C1379.7 1480.17 1381.05 1479.97 1382.4 1479.81C1383.74 1479.66 1385.09 1479.58 1386.44 1479.51C1387.78 1479.43 1389.13 1479.41 1390.48 1479.36C1391.82 1479.32 1393.17 1479.29 1394.52 1479.21C1395.86 1479.13 1397.21 1479.05 1398.56 1478.88C1399.9 1478.71 1401.25 1478.51 1402.59 1478.2C1403.94 1477.88 1405.29 1477.51 1406.63 1477C1407.98 1476.48 1409.33 1475.88 1410.67 1475.1C1412.02 1474.33 1413.37 1473.44 1414.71 1472.35C1416.06 1471.26 1417.41 1470.03 1418.75 1468.57C1420.1 1467.11 1421.45 1465.48 1422.79 1463.59C1424.14 1461.7 1425.48 1459.61 1426.83 1457.23C1428.18 1454.84 1429.52 1452.23 1430.87 1449.29C1432.22 1446.34 1433.56 1443.12 1434.91 1439.54C1436.26 1435.95 1437.6 1432.06 1438.95 1427.76C1440.3 1423.46 1441.64 1418.75 1442.99 1413.73C1444.34 1408.71 1445.68 1403.21 1447.03 1397.66C1448.38 1392.11 1449.72 1386.21 1451.07 1380.43C1452.41 1374.65 1453.76 1368.68 1455.11 1362.99C1456.45 1357.3 1457.8 1351.58 1459.15 1346.28C1460.49 1340.98 1461.84 1335.86 1463.19 1331.2C1464.53 1326.53 1465.88 1322.16 1467.23 1318.3C1468.57 1314.44 1469.92 1310.95 1471.27 1308.04C1472.61 1305.14 1473.96 1302.72 1475.3 1300.87C1476.65 1299.02 1478 1297.89 1479.34 1296.96C1480.69 1296.03 1482.04 1295.69 1483.38 1295.3C1484.73 1294.9 1486.08 1294.88 1487.42 1294.58C1488.77 1294.27 1490.12 1294.13 1491.46 1293.48C1492.81 1292.83 1494.16 1292.14 1495.5 1290.67C1496.85 1289.2 1498.2 1287.39 1499.54 1284.68C1500.89 1281.97 1502.23 1278.38 1503.58 1274.42C1504.93 1270.45 1506.27 1265.65 1507.62 1260.89C1508.97 1256.13 1510.31 1250.88 1511.66 1245.86C1513.01 1240.84 1514.35 1235.72 1515.7 1230.78C1517.05 1225.85 1518.39 1220.93 1519.74 1216.25C1521.09 1211.56 1522.43 1206.97 1523.78 1202.69C1525.12 1198.41 1526.47 1194.29 1527.82 1190.55C1529.16 1186.81 1530.51 1183.31 1531.86 1180.26C1533.2 1177.21 1534.55 1174.47 1535.9 1172.26C1537.24 1170.05 1538.59 1168.21 1539.94 1166.98C1541.28 1165.75 1542.63 1164.97 1543.98 1164.86C1545.32 1164.75 1546.67 1165.17 1548.01 1166.33C1549.36 1167.49 1550.71 1169.26 1552.05 1171.83C1553.4 1174.41 1554.75 1177.74 1556.09 1181.77C1557.44 1185.8 1558.79 1190.65 1560.13 1196C1561.48 1201.35 1562.83 1207.42 1564.17 1213.89C1565.52 1220.35 1566.87 1227.43 1568.21 1234.78C1569.56 1242.14 1570.91 1249.92 1572.25 1258.04C1573.6 1266.16 1574.94 1274.42 1576.29 1283.52C1577.64 1292.62 1578.98 1302.54 1580.33 1312.65C1581.68 1322.75 1583.02 1334.88 1584.37 1344.16C1585.72 1353.44 1587.06 1361.07 1588.41 1368.32C1589.76 1375.58 1591.1 1381.44 1592.45 1387.7C1593.8 1393.96 1595.14 1400.09 1596.49 1405.87C1597.83 1411.65 1599.18 1417.42 1600.53 1422.39C1601.87 1427.36 1603.22 1431.85 1604.57 1435.66C1605.91 1439.47 1607.26 1442.58 1608.61 1445.25C1609.95 1447.91 1611.3 1449.96 1612.65 1451.65C1613.99 1453.35 1615.34 1454.52 1616.69 1455.43C1618.03 1456.34 1619.38 1456.81 1620.73 1457.11C1622.07 1457.41 1623.42 1457.37 1624.76 1457.24C1626.11 1457.12 1627.46 1456.74 1628.8 1456.38C1630.15 1456.01 1631.5 1455.5 1632.84 1455.05C1634.19 1454.61 1635.54 1454.12 1636.88 1453.71C1638.23 1453.29 1639.58 1452.88 1640.92 1452.57C1642.27 1452.26 1643.62 1451.98 1644.96 1451.85C1646.31 1451.71 1647.65 1451.64 1649 1451.75C1650.35 1451.85 1651.69 1452.08 1653.04 1452.48C1654.39 1452.87 1655.73 1453.48 1657.08 1454.13C1658.43 1454.77 1659.77 1455.59 1661.12 1456.36C1662.47 1457.13 1663.81 1457.99 1665.16 1458.73C1666.51 1459.47 1667.85 1460.2 1669.2 1460.79C1670.55 1461.38 1671.89 1461.84 1673.24 1462.25C1674.58 1462.65 1675.93 1462.94 1677.28 1463.23C1678.62 1463.51 1679.97 1463.72 1681.32 1463.95C1682.66 1464.19 1684.01 1464.38 1685.36 1464.63C1686.7 1464.89 1688.05 1465.15 1689.4 1465.49C1690.74 1465.83 1692.09 1466.24 1693.44 1466.7C1694.78 1467.15 1696.13 1467.68 1697.47 1468.21C1698.82 1468.75 1700.17 1469.34 1701.51 1469.91C1702.86 1470.48 1704.21 1471.09 1705.55 1471.66C1706.9 1472.23 1708.25 1472.8 1709.59 1473.35C1710.94 1473.9 1712.29 1474.43 1713.63 1474.94C1714.98 1475.45 1716.33 1475.94 1717.67 1476.41C1719.02 1476.87 1720.37 1477.32 1721.71 1477.74C1723.06 1478.15 1724.4 1478.55 1725.75 1478.91C1727.1 1479.27 1728.44 1479.6 1729.79 1479.9C1731.14 1480.19 1732.48 1480.46 1733.83 1480.69C1735.18 1480.92 1736.52 1481.11 1737.87 1481.26C1739.22 1481.41 1740.56 1481.52 1741.91 1481.59C1743.26 1481.67 1745.27 1481.68 1745.95 1481.7L1745.95 1481.7Z"/>
<clipPath id="cp-kc-grey"><use href="#kc-grey"/></clipPath>
</defs>
<use href="#kc-blue" fill="#E0E6F8"/>
<use href="#kc-pink" fill="#F0C8C8"/>
<use href="#kc-grey" fill="#BCB7B5"/>
<use href="#kc-pink" clip-path="url(#cp-kc-blue)" fill="#CDB0C8"/>
<use href="#kc-grey" clip-path="url(#cp-kc-pink)" fill="#B98784"/>
<use href="#kc-grey" clip-path="url(#cp-kc-blue)" fill="#A8B4CF"/>
<g clip-path="url(#cp-kc-blue)"><use href="#kc-grey" clip-path="url(#cp-kc-pink)" fill="#A38396"/></g>
<line x1="1413.76" y1="1057.3" x2="1413.76" y2="1481.7" stroke="#7B99D5" stroke-width="4.1"/>
<line x1="1634.3" y1="1057.3" x2="1634.3" y2="1481.7" stroke="#000" stroke-width="4.1"/>
<line x1="1867.14" y1="1057.3" x2="1867.14" y2="1481.7" stroke="#AE261A" stroke-width="4.1"/>
</g>
<rect x="1138" y="1057.3" width="854.8" height="424.4" fill="none" stroke="#000" stroke-width="2.2"/>
<text x="1138" y="1523.9" font-family="'DejaVu Sans', 'Liberation Sans', sans-serif" font-size="28.2" fill="#000" text-anchor="middle">−8</text>
<text x="1308.96" y="1523.9" font-family="'DejaVu Sans', 'Liberation Sans', sans-serif" font-size="28.2" fill="#000" text-anchor="middle">−7</text>
<text x="1479.92" y="1523.9" font-family="'DejaVu Sans', 'Liberation Sans', sans-serif" font-size="28.2" fill="#000" text-anchor="middle">−6</text>
<text x="1650.88" y="1523.9" font-family="'DejaVu Sans', 'Liberation Sans', sans-serif" font-size="28.2" fill="#000" text-anchor="middle">−5</text>
<text x="1821.84" y="1523.9" font-family="'DejaVu Sans', 'Liberation Sans', sans-serif" font-size="28.2" fill="#000" text-anchor="middle">−4</text>
<text x="1992.8" y="1523.9" font-family="'DejaVu Sans', 'Liberation Sans', sans-serif" font-size="28.2" fill="#000" text-anchor="middle">−3</text>
<text x="1118.4" y="1492.1" font-family="'DejaVu Sans', 'Liberation Sans', sans-serif" font-size="28.2" fill="#000" text-anchor="end">0</text>
<text x="1118.4" y="1279.9" font-family="'DejaVu Sans', 'Liberation Sans', sans-serif" font-size="28.2" fill="#000" text-anchor="end">1</text>
<text x="1118.4" y="1067.7" font-family="'DejaVu Sans', 'Liberation Sans', sans-serif" font-size="28.2" fill="#000" text-anchor="end">2</text>
<path d="M1138 1481.7v9.8M1308.96 1481.7v9.8M1479.92 1481.7v9.8M1650.88 1481.7v9.8M1821.84 1481.7v9.8M1992.8 1481.7v9.8M1138 1481.7h-9.8M1138 1269.5h-9.8M1138 1057.3h-9.8" stroke="#000" stroke-width="2.2" fill="none"/>
<text x="1565.4" y="1039.7" font-family="'DejaVu Sans', 'Liberation Sans', sans-serif" font-size="33.8" fill="#000" text-anchor="middle">towards minor allele</text>
<text x="1050" y="1314.9" font-family="'Liberation Sans', sans-serif" font-size="35" fill="#111" textLength="119.5" lengthAdjust="spacingAndGlyphs" transform="rotate(-90 1050 1314.9)" stroke="#111" stroke-width="0.3">Density</text>
<text x="1034.52" y="1038.3" font-family="'Liberation Sans', sans-serif" font-size="66" fill="#111" font-weight="bold" textLength="30.09" lengthAdjust="spacingAndGlyphs">c</text>
</g>
<g id="panel-d">
<clipPath id="clip-d"><rect x="111.2" y="1567.5" width="854.9" height="425"/></clipPath>
<g clip-path="url(#clip-d)">
<defs>
<path id="kd-blue" d="M365.97 1992.5L365.97 1991.47C366.64 1991.37 368.64 1991.05 369.98 1990.83C371.31 1990.61 372.65 1990.37 373.98 1990.14C375.32 1989.91 376.66 1989.68 377.99 1989.45C379.33 1989.21 380.66 1988.97 382 1988.71C383.33 1988.45 384.67 1988.19 386.01 1987.89C387.34 1987.6 388.68 1987.3 390.01 1986.96C391.35 1986.63 392.68 1986.27 394.02 1985.88C395.36 1985.48 396.69 1985.06 398.03 1984.6C399.36 1984.13 400.7 1983.64 402.03 1983.09C403.37 1982.54 404.71 1981.96 406.04 1981.32C407.38 1980.68 408.71 1979.99 410.05 1979.24C411.38 1978.49 412.72 1977.7 414.06 1976.83C415.39 1975.96 416.73 1975.03 418.06 1974.03C419.4 1973.03 420.74 1971.97 422.07 1970.82C423.41 1969.68 424.74 1968.47 426.08 1967.16C427.41 1965.86 428.75 1964.48 430.09 1963.01C431.42 1961.54 432.76 1959.99 434.09 1958.34C435.43 1956.68 436.76 1954.94 438.1 1953.09C439.44 1951.25 440.77 1949.29 442.11 1947.26C443.44 1945.23 444.78 1943.09 446.11 1940.9C447.45 1938.71 448.79 1936.43 450.12 1934.12C451.46 1931.8 452.79 1929.42 454.13 1927.01C455.46 1924.61 456.8 1922.15 458.14 1919.7C459.47 1917.24 460.81 1914.75 462.14 1912.27C463.48 1909.8 464.82 1907.3 466.15 1904.84C467.49 1902.38 468.82 1899.92 470.16 1897.51C471.49 1895.1 472.83 1892.72 474.17 1890.38C475.5 1888.04 476.84 1885.74 478.17 1883.49C479.51 1881.23 480.84 1879.02 482.18 1876.86C483.52 1874.7 484.85 1872.58 486.19 1870.51C487.52 1868.45 488.86 1866.43 490.19 1864.47C491.53 1862.51 492.87 1860.61 494.2 1858.76C495.54 1856.92 496.87 1855.13 498.21 1853.4C499.54 1851.68 500.88 1850.01 502.22 1848.42C503.55 1846.82 504.89 1845.29 506.22 1843.82C507.56 1842.36 508.9 1840.97 510.23 1839.65C511.57 1838.33 512.9 1837.09 514.24 1835.92C515.57 1834.75 516.91 1833.66 518.25 1832.65C519.58 1831.64 520.92 1830.71 522.25 1829.86C523.59 1829.02 524.92 1828.26 526.26 1827.58C527.6 1826.91 528.93 1826.33 530.27 1825.83C531.6 1825.34 532.94 1824.94 534.27 1824.64C535.61 1824.33 536.95 1824.12 538.28 1824C539.62 1823.88 540.95 1823.85 542.29 1823.91C543.63 1823.96 544.96 1824.11 546.3 1824.33C547.63 1824.55 548.97 1824.86 550.3 1825.23C551.64 1825.61 552.98 1826.07 554.31 1826.59C555.65 1827.11 556.98 1827.71 558.32 1828.37C559.65 1829.03 560.99 1829.76 562.33 1830.55C563.66 1831.33 565 1832.19 566.33 1833.09C567.67 1833.99 569 1834.95 570.34 1835.96C571.68 1836.96 573.01 1838.03 574.35 1839.12C575.68 1840.21 577.02 1841.35 578.35 1842.52C579.69 1843.68 581.03 1844.89 582.36 1846.11C583.7 1847.33 585.03 1848.58 586.37 1849.84C587.71 1851.1 589.04 1852.39 590.38 1853.67C591.71 1854.96 593.05 1856.26 594.38 1857.56C595.72 1858.85 597.06 1860.16 598.39 1861.45C599.73 1862.74 601.06 1864.03 602.4 1865.29C603.73 1866.56 605.07 1867.82 606.41 1869.06C607.74 1870.29 609.08 1871.5 610.41 1872.68C611.75 1873.86 613.08 1875.02 614.42 1876.14C615.76 1877.25 617.09 1878.34 618.43 1879.37C619.76 1880.41 621.1 1881.4 622.43 1882.34C623.77 1883.28 625.11 1884.17 626.44 1885C627.78 1885.83 629.11 1886.61 630.45 1887.31C631.79 1888.01 633.12 1888.66 634.46 1889.21C635.79 1889.77 637.13 1890.26 638.46 1890.66C639.8 1891.05 641.14 1891.37 642.47 1891.58C643.81 1891.79 645.14 1891.9 646.48 1891.92C647.81 1891.93 649.15 1891.82 650.49 1891.66C651.82 1891.5 653.16 1891.23 654.49 1890.95C655.83 1890.66 657.16 1890.31 658.5 1889.96C659.84 1889.61 661.17 1889.23 662.51 1888.86C663.84 1888.48 665.18 1888.09 666.51 1887.7C667.85 1887.32 669.19 1886.92 670.52 1886.53C671.86 1886.13 673.19 1885.74 674.53 1885.35C675.87 1884.96 677.2 1884.57 678.54 1884.2C679.87 1883.82 681.21 1883.45 682.54 1883.1C683.88 1882.74 685.22 1882.4 686.55 1882.08C687.89 1881.75 689.22 1881.44 690.56 1881.16C691.89 1880.88 693.23 1880.61 694.57 1880.37C695.9 1880.14 697.24 1879.92 698.57 1879.74C699.91 1879.56 701.24 1879.41 702.58 1879.29C703.92 1879.17 705.25 1879.09 706.59 1879.05C707.92 1879 709.26 1879 710.6 1879.04C711.93 1879.08 713.27 1879.16 714.6 1879.29C715.94 1879.42 717.27 1879.59 718.61 1879.82C719.95 1880.05 721.28 1880.33 722.62 1880.66C723.95 1881 725.29 1881.39 726.62 1881.85C727.96 1882.3 729.3 1882.81 730.63 1883.39C731.97 1883.96 733.3 1884.6 734.64 1885.29C735.97 1885.98 737.31 1886.73 738.65 1887.52C739.98 1888.31 741.32 1889.15 742.65 1890.03C743.99 1890.91 745.32 1891.84 746.66 1892.81C748 1893.77 749.33 1894.77 750.67 1895.8C752 1896.83 753.34 1897.89 754.68 1898.98C756.01 1900.06 757.35 1901.18 758.68 1902.31C760.02 1903.44 761.35 1904.6 762.69 1905.76C764.03 1906.92 765.36 1908.11 766.7 1909.29C768.03 1910.48 769.37 1911.68 770.7 1912.87C772.04 1914.07 773.38 1915.27 774.71 1916.46C776.05 1917.66 777.38 1918.85 778.72 1920.03C780.05 1921.21 781.39 1922.39 782.73 1923.55C784.06 1924.7 785.4 1925.85 786.73 1926.97C788.07 1928.09 789.4 1929.2 790.74 1930.27C792.08 1931.34 793.41 1932.39 794.75 1933.41C796.08 1934.43 797.42 1935.42 798.76 1936.38C800.09 1937.34 801.43 1938.28 802.76 1939.19C804.1 1940.11 805.43 1940.99 806.77 1941.86C808.11 1942.72 809.44 1943.56 810.78 1944.38C812.11 1945.19 813.45 1945.99 814.78 1946.76C816.12 1947.53 817.46 1948.29 818.79 1949.02C820.13 1949.75 821.46 1950.46 822.8 1951.16C824.13 1951.85 825.47 1952.53 826.81 1953.19C828.14 1953.85 829.48 1954.49 830.81 1955.11C832.15 1955.74 833.48 1956.35 834.82 1956.95C836.16 1957.54 837.49 1958.12 838.83 1958.69C840.16 1959.26 841.5 1959.82 842.84 1960.36C844.17 1960.91 845.51 1961.44 846.84 1961.96C848.18 1962.48 849.51 1962.99 850.85 1963.5C852.19 1964 853.52 1964.49 854.86 1964.98C856.19 1965.47 857.53 1965.94 858.86 1966.42C860.2 1966.9 861.54 1967.37 862.87 1967.86C864.21 1968.35 865.54 1968.83 866.88 1969.34C868.21 1969.86 869.55 1970.37 870.89 1970.93C872.22 1971.48 873.56 1972.05 874.89 1972.65C876.23 1973.26 877.56 1973.9 878.9 1974.55C880.24 1975.19 881.57 1975.86 882.91 1976.52C884.24 1977.17 885.58 1977.83 886.92 1978.46C888.25 1979.09 889.59 1979.71 890.92 1980.28C892.26 1980.85 893.59 1981.38 894.93 1981.88C896.27 1982.38 897.6 1982.85 898.94 1983.28C900.27 1983.71 901.61 1984.11 902.94 1984.49C904.28 1984.86 905.62 1985.2 906.95 1985.53C908.29 1985.85 909.62 1986.14 910.96 1986.42C912.29 1986.7 913.63 1986.95 914.97 1987.19C916.3 1987.43 917.64 1987.64 918.97 1987.85C920.31 1988.06 921.65 1988.25 922.98 1988.43C924.32 1988.61 925.65 1988.78 926.99 1988.95C928.32 1989.11 929.66 1989.27 931 1989.42C932.33 1989.58 933.67 1989.72 935 1989.87C936.34 1990.03 937.67 1990.17 939.01 1990.33C940.35 1990.49 941.68 1990.65 943.02 1990.81C944.35 1990.96 946.36 1991.18 947.02 1991.25L947.02 1992.5Z"/>
<clipPath id="cp-kd-blue"><use href="#kd-blue"/></clipPath>
<path id="kd-pink" d="M244.7 1992.5L244.7 1991.47C245.37 1991.41 247.38 1991.24 248.73 1991.09C250.07 1990.95 251.41 1990.8 252.75 1990.6C254.09 1990.4 255.43 1990.16 256.77 1989.89C258.11 1989.63 259.45 1989.32 260.79 1988.98C262.13 1988.63 263.48 1988.25 264.82 1987.83C266.16 1987.41 267.5 1986.95 268.84 1986.45C270.18 1985.94 271.52 1985.4 272.86 1984.81C274.2 1984.22 275.54 1983.59 276.88 1982.91C278.23 1982.23 279.57 1981.5 280.91 1980.73C282.25 1979.95 283.59 1979.13 284.93 1978.26C286.27 1977.39 287.61 1976.46 288.95 1975.49C290.29 1974.51 291.63 1973.49 292.98 1972.4C294.32 1971.32 295.66 1970.19 297 1968.99C298.34 1967.8 299.68 1966.55 301.02 1965.25C302.36 1963.94 303.7 1962.57 305.04 1961.15C306.38 1959.72 307.73 1958.24 309.07 1956.69C310.41 1955.14 311.75 1953.53 313.09 1951.85C314.43 1950.18 315.77 1948.44 317.11 1946.63C318.45 1944.82 319.79 1942.94 321.13 1941.01C322.48 1939.08 323.82 1937.07 325.16 1935.03C326.5 1932.99 327.84 1930.89 329.18 1928.76C330.52 1926.63 331.86 1924.46 333.2 1922.27C334.54 1920.09 335.88 1917.86 337.23 1915.64C338.57 1913.42 339.91 1911.17 341.25 1908.94C342.59 1906.71 343.93 1904.46 345.27 1902.24C346.61 1900.02 347.95 1897.8 349.29 1895.61C350.63 1893.43 351.98 1891.26 353.32 1889.13C354.66 1887.01 356 1884.91 357.34 1882.87C358.68 1880.83 360.02 1878.82 361.36 1876.87C362.7 1874.93 364.04 1873.03 365.38 1871.19C366.73 1869.36 368.07 1867.58 369.41 1865.87C370.75 1864.17 372.09 1862.53 373.43 1860.97C374.77 1859.41 376.11 1857.91 377.45 1856.52C378.79 1855.12 380.14 1853.79 381.48 1852.57C382.82 1851.35 384.16 1850.22 385.5 1849.18C386.84 1848.15 388.18 1847.22 389.52 1846.35C390.86 1845.47 392.2 1844.69 393.54 1843.93C394.89 1843.17 396.23 1842.47 397.57 1841.77C398.91 1841.07 400.25 1840.41 401.59 1839.72C402.93 1839.03 404.27 1838.36 405.61 1837.63C406.95 1836.89 408.29 1836.15 409.64 1835.33C410.98 1834.5 412.32 1833.63 413.66 1832.68C415 1831.74 416.34 1830.73 417.68 1829.65C419.02 1828.57 420.36 1827.43 421.7 1826.23C423.04 1825.02 424.39 1823.75 425.73 1822.41C427.07 1821.08 428.41 1819.67 429.75 1818.21C431.09 1816.74 432.43 1815.2 433.77 1813.6C435.11 1812 436.45 1810.33 437.79 1808.59C439.14 1806.85 440.48 1805.05 441.82 1803.18C443.16 1801.31 444.5 1799.36 445.84 1797.39C447.18 1795.43 448.52 1793.39 449.86 1791.38C451.2 1789.37 452.54 1787.32 453.89 1785.33C455.23 1783.35 456.57 1781.35 457.91 1779.45C459.25 1777.54 460.59 1775.66 461.93 1773.91C463.27 1772.15 464.61 1770.45 465.95 1768.9C467.29 1767.36 468.64 1765.91 469.98 1764.62C471.32 1763.33 472.66 1762.17 474 1761.17C475.34 1760.16 476.68 1759.29 478.02 1758.58C479.36 1757.86 480.7 1757.3 482.04 1756.9C483.39 1756.49 484.73 1756.25 486.07 1756.17C487.41 1756.1 488.75 1756.18 490.09 1756.44C491.43 1756.71 492.77 1757.14 494.11 1757.76C495.45 1758.38 496.79 1759.18 498.14 1760.15C499.48 1761.13 500.82 1762.29 502.16 1763.6C503.5 1764.92 504.84 1766.41 506.18 1768.04C507.52 1769.68 508.86 1771.48 510.2 1773.42C511.54 1775.35 512.89 1777.44 514.23 1779.66C515.57 1781.88 516.91 1784.24 518.25 1786.72C519.59 1789.19 520.93 1791.8 522.27 1794.52C523.61 1797.24 524.95 1800.08 526.29 1803.02C527.64 1805.96 528.98 1809.01 530.32 1812.16C531.66 1815.31 533 1818.56 534.34 1821.9C535.68 1825.24 537.02 1828.68 538.36 1832.2C539.7 1835.71 541.05 1839.34 542.39 1842.99C543.73 1846.64 545.07 1850.39 546.41 1854.1C547.75 1857.81 549.09 1861.57 550.43 1865.23C551.77 1868.89 553.11 1872.53 554.45 1876.06C555.8 1879.58 557.14 1883.03 558.48 1886.38C559.82 1889.72 561.16 1892.98 562.5 1896.12C563.84 1899.26 565.18 1902.31 566.52 1905.24C567.86 1908.16 569.2 1910.98 570.55 1913.67C571.89 1916.37 573.23 1918.94 574.57 1921.38C575.91 1923.82 577.25 1926.14 578.59 1928.31C579.93 1930.49 581.27 1932.52 582.61 1934.43C583.95 1936.34 585.3 1938.12 586.64 1939.78C587.98 1941.45 589.32 1942.99 590.66 1944.43C592 1945.87 593.34 1947.2 594.68 1948.44C596.02 1949.68 597.36 1950.81 598.7 1951.87C600.05 1952.93 601.39 1953.89 602.73 1954.78C604.07 1955.68 605.41 1956.49 606.75 1957.25C608.09 1958 609.43 1958.68 610.77 1959.32C612.11 1959.95 613.45 1960.52 614.8 1961.06C616.14 1961.6 617.48 1962.08 618.82 1962.54C620.16 1962.99 621.5 1963.41 622.84 1963.81C624.18 1964.21 625.52 1964.58 626.86 1964.94C628.2 1965.31 629.55 1965.65 630.89 1966C632.23 1966.35 633.57 1966.68 634.91 1967.04C636.25 1967.39 637.59 1967.75 638.93 1968.11C640.27 1968.48 641.61 1968.86 642.95 1969.24C644.3 1969.63 645.64 1970.02 646.98 1970.41C648.32 1970.81 649.66 1971.21 651 1971.62C652.34 1972.03 653.68 1972.44 655.02 1972.86C656.36 1973.27 657.7 1973.69 659.05 1974.11C660.39 1974.53 661.73 1974.96 663.07 1975.38C664.41 1975.8 665.75 1976.23 667.09 1976.65C668.43 1977.08 669.77 1977.5 671.11 1977.92C672.45 1978.35 673.8 1978.77 675.14 1979.19C676.48 1979.6 677.82 1980.02 679.16 1980.43C680.5 1980.84 681.84 1981.25 683.18 1981.65C684.52 1982.05 685.86 1982.45 687.2 1982.84C688.55 1983.23 689.89 1983.61 691.23 1983.99C692.57 1984.36 693.91 1984.73 695.25 1985.09C696.59 1985.45 697.93 1985.8 699.27 1986.14C700.61 1986.48 701.96 1986.81 703.3 1987.12C704.64 1987.44 705.98 1987.75 707.32 1988.04C708.66 1988.33 710 1988.62 711.34 1988.88C712.68 1989.15 714.02 1989.4 715.36 1989.64C716.71 1989.87 718.05 1990.1 719.39 1990.3C720.73 1990.51 722.07 1990.7 723.41 1990.87C724.75 1991.04 726.09 1991.19 727.43 1991.33C728.77 1991.46 730.11 1991.58 731.46 1991.67C732.8 1991.76 734.14 1991.84 735.48 1991.89C736.82 1991.95 738.16 1991.98 739.5 1991.99C740.84 1992 742.18 1991.98 743.52 1991.95C744.86 1991.91 746.21 1991.68 747.55 1991.76C748.89 1991.84 750.9 1992.31 751.57 1992.42L751.57 1992.5Z"/>
<clipPath id="cp-kd-pink"><use href="#kd-pink"/></clipPath>
<path id="kd-grey" d="M417.62 1992.5L417.62 1991.47C418.29 1991.44 420.31 1991.35 421.66 1991.28C423 1991.2 424.35 1991.11 425.69 1991.04C427.04 1990.97 428.38 1990.91 429.73 1990.84C431.07 1990.76 432.42 1990.69 433.76 1990.59C435.11 1990.49 436.45 1990.38 437.8 1990.22C439.14 1990.06 440.49 1989.89 441.83 1989.66C443.18 1989.42 444.52 1989.16 445.87 1988.82C447.21 1988.49 448.56 1988.11 449.9 1987.64C451.25 1987.18 452.59 1986.66 453.94 1986.04C455.28 1985.43 456.63 1984.74 457.98 1983.95C459.32 1983.16 460.67 1982.28 462.01 1981.29C463.36 1980.29 464.7 1979.19 466.05 1977.98C467.39 1976.77 468.74 1975.44 470.08 1974.03C471.43 1972.62 472.77 1971.1 474.12 1969.52C475.46 1967.94 476.81 1966.26 478.15 1964.54C479.5 1962.82 480.84 1961.02 482.19 1959.2C483.53 1957.37 484.88 1955.47 486.22 1953.57C487.57 1951.66 488.91 1949.71 490.26 1947.75C491.6 1945.8 492.95 1943.81 494.3 1941.84C495.64 1939.87 496.99 1937.89 498.33 1935.92C499.68 1933.95 501.02 1931.99 502.37 1930.02C503.71 1928.05 505.06 1926.08 506.4 1924.09C507.75 1922.1 509.09 1920.11 510.44 1918.09C511.78 1916.07 513.13 1914.04 514.47 1911.98C515.82 1909.92 517.16 1907.85 518.51 1905.73C519.85 1903.61 521.2 1901.47 522.54 1899.28C523.89 1897.1 525.23 1894.88 526.58 1892.61C527.92 1890.33 529.27 1888.04 530.62 1885.64C531.96 1883.25 533.31 1880.82 534.65 1878.25C536 1875.67 537.34 1873.03 538.69 1870.2C540.03 1867.38 541.38 1864.45 542.72 1861.3C544.07 1858.15 545.41 1854.86 546.76 1851.32C548.1 1847.78 549.45 1844.05 550.79 1840.06C552.14 1836.08 553.48 1831.78 554.83 1827.41C556.17 1823.03 557.52 1818.38 558.86 1813.79C560.21 1809.19 561.55 1804.44 562.9 1799.84C564.24 1795.23 565.59 1790.6 566.94 1786.18C568.28 1781.75 569.63 1777.44 570.97 1773.27C572.32 1769.1 573.66 1765.06 575.01 1761.14C576.35 1757.22 577.7 1753.41 579.04 1749.75C580.39 1746.09 581.73 1742.53 583.08 1739.21C584.42 1735.88 585.77 1732.7 587.11 1729.8C588.46 1726.9 589.8 1724.19 591.15 1721.82C592.49 1719.44 593.84 1717.3 595.18 1715.55C596.53 1713.79 597.87 1712.34 599.22 1711.27C600.56 1710.2 601.91 1709.51 603.26 1709.12C604.6 1708.72 605.95 1708.69 607.29 1708.9C608.64 1709.11 609.98 1709.65 611.33 1710.4C612.67 1711.15 614.02 1712.19 615.36 1713.4C616.71 1714.62 618.05 1716.09 619.4 1717.7C620.74 1719.31 622.09 1721.13 623.43 1723.06C624.78 1724.99 626.12 1727.1 627.47 1729.28C628.81 1731.46 630.16 1733.79 631.5 1736.15C632.85 1738.51 634.19 1740.97 635.54 1743.44C636.88 1745.9 638.23 1748.44 639.58 1750.93C640.92 1753.43 642.27 1755.96 643.61 1758.43C644.96 1760.9 646.3 1763.33 647.65 1765.76C648.99 1768.19 650.34 1770.58 651.68 1772.99C653.03 1775.4 654.37 1777.79 655.72 1780.23C657.06 1782.66 658.41 1785.1 659.75 1787.59C661.1 1790.08 662.44 1792.6 663.79 1795.19C665.13 1797.78 666.48 1800.42 667.82 1803.14C669.17 1805.87 670.51 1808.68 671.86 1811.55C673.2 1814.42 674.55 1817.4 675.9 1820.38C677.24 1823.37 678.59 1826.43 679.93 1829.47C681.28 1832.51 682.62 1835.59 683.97 1838.62C685.31 1841.65 686.66 1844.7 688 1847.66C689.35 1850.62 690.69 1853.55 692.04 1856.39C693.38 1859.22 694.73 1861.98 696.07 1864.66C697.42 1867.33 698.76 1869.92 700.11 1872.42C701.45 1874.93 702.8 1877.34 704.14 1879.67C705.49 1881.99 706.83 1884.23 708.18 1886.38C709.52 1888.52 710.87 1890.57 712.22 1892.53C713.56 1894.48 714.91 1896.35 716.25 1898.11C717.6 1899.87 718.94 1901.52 720.29 1903.1C721.63 1904.68 722.98 1906.14 724.32 1907.59C725.67 1909.05 727.01 1910.41 728.36 1911.81C729.7 1913.21 731.05 1914.56 732.39 1915.98C733.74 1917.4 735.08 1918.81 736.43 1920.33C737.77 1921.85 739.12 1923.42 740.46 1925.08C741.81 1926.75 743.15 1928.51 744.5 1930.3C745.84 1932.09 747.19 1933.97 748.53 1935.83C749.88 1937.7 751.23 1939.61 752.57 1941.5C753.92 1943.38 755.26 1945.28 756.61 1947.13C757.95 1948.97 759.3 1950.8 760.64 1952.54C761.99 1954.29 763.33 1955.99 764.68 1957.58C766.02 1959.18 767.37 1960.69 768.71 1962.12C770.06 1963.55 771.4 1964.89 772.75 1966.16C774.09 1967.43 775.44 1968.62 776.78 1969.75C778.13 1970.88 779.47 1971.94 780.82 1972.94C782.16 1973.94 783.51 1974.87 784.85 1975.75C786.2 1976.64 787.55 1977.46 788.89 1978.24C790.24 1979.02 791.58 1979.74 792.93 1980.43C794.27 1981.11 795.62 1981.74 796.96 1982.34C798.31 1982.94 799.65 1983.49 801 1984C802.34 1984.52 803.69 1984.99 805.03 1985.44C806.38 1985.88 807.72 1986.29 809.07 1986.67C810.41 1987.05 811.76 1987.4 813.1 1987.72C814.45 1988.05 815.79 1988.35 817.14 1988.62C818.48 1988.9 819.83 1989.15 821.17 1989.39C822.52 1989.63 823.87 1989.85 825.21 1990.05C826.56 1990.26 827.9 1990.45 829.25 1990.63C830.59 1990.82 831.94 1990.99 833.28 1991.16C834.63 1991.32 835.97 1991.48 837.32 1991.64C838.66 1991.81 840.01 1991.99 841.35 1992.12C842.7 1992.25 844.72 1992.37 845.39 1992.42L845.39 1992.5Z"/>
<clipPath id="cp-kd-grey"><use href="#kd-grey"/></clipPath>
</defs>
<use href="#kd-blue" fill="#E0E6F8"/>
<use href="#kd-pink" fill="#F0C8C8"/>
<use href="#kd-grey" fill="#BCB7B5"/>
<use href="#kd-pink" clip-path="url(#cp-kd-blue)" fill="#CDB0C8"/>
<use href="#kd-grey" clip-path="url(#cp-kd-pink)" fill="#B98784"/>
<use href="#kd-grey" clip-path="url(#cp-kd-blue)" fill="#A8B4CF"/>
<g clip-path="url(#cp-kd-blue)"><use href="#kd-grey" clip-path="url(#cp-kd-pink)" fill="#A38396"/></g>
<line x1="242.85" y1="1567.5" x2="242.85" y2="1992.5" stroke="#AE261A" stroke-width="4.1"/>
<line x1="308.9" y1="1567.5" x2="308.9" y2="1992.5" stroke="#000" stroke-width="4.1"/>
<line x1="585.88" y1="1567.5" x2="585.88" y2="1992.5" stroke="#7B99D5" stroke-width="4.1"/>
</g>
<rect x="111.2" y="1567.5" width="854.9" height="425" fill="none" stroke="#000" stroke-width="2.2"/>
<text x="111.2" y="2034.7" font-family="'DejaVu Sans', 'Liberation Sans', sans-serif" font-size="28.2" fill="#000" text-anchor="middle">−5</text>
<text x="324.93" y="2034.7" font-family="'DejaVu Sans', 'Liberation Sans', sans-serif" font-size="28.2" fill="#000" text-anchor="middle">−4</text>
<text x="538.65" y="2034.7" font-family="'DejaVu Sans', 'Liberation Sans', sans-serif" font-size="28.2" fill="#000" text-anchor="middle">−3</text>
<text x="752.38" y="2034.7" font-family="'DejaVu Sans', 'Liberation Sans', sans-serif" font-size="28.2" fill="#000" text-anchor="middle">−2</text>
<text x="966.1" y="2034.7" font-family="'DejaVu Sans', 'Liberation Sans', sans-serif" font-size="28.2" fill="#000" text-anchor="middle">−1</text>
<text x="91.6" y="2002.9" font-family="'DejaVu Sans', 'Liberation Sans', sans-serif" font-size="28.2" fill="#000" text-anchor="end">0</text>
<text x="91.6" y="1790.4" font-family="'DejaVu Sans', 'Liberation Sans', sans-serif" font-size="28.2" fill="#000" text-anchor="end">1</text>
<text x="91.6" y="1577.9" font-family="'DejaVu Sans', 'Liberation Sans', sans-serif" font-size="28.2" fill="#000" text-anchor="end">2</text>
<path d="M111.2 1992.5v9.8M324.93 1992.5v9.8M538.65 1992.5v9.8M752.38 1992.5v9.8M966.1 1992.5v9.8M111.2 1992.5h-9.8M111.2 1780h-9.8M111.2 1567.5h-9.8" stroke="#000" stroke-width="2.2" fill="none"/>
<text x="538.65" y="2074.8" font-family="'DejaVu Sans', 'Liberation Sans', sans-serif" font-size="28.25" fill="#000" text-anchor="middle">average loglikelihood</text>
<text x="29.5" y="1846.2" font-family="'Liberation Sans', sans-serif" font-size="35" fill="#111" textLength="119.5" lengthAdjust="spacingAndGlyphs" transform="rotate(-90 29.5 1846.2)" stroke="#111" stroke-width="0.3">Density</text>
<text x="4.44" y="1557.5" font-family="'Liberation Sans', sans-serif" font-size="66" fill="#111" font-weight="bold" textLength="38.71" lengthAdjust="spacingAndGlyphs">d</text>
</g>
<g id="panel-e">
<clipPath id="clip-e"><rect x="1138" y="1567.5" width="854.8" height="425"/></clipPath>
<g clip-path="url(#clip-e)">
<defs>
<path id="ke-blue" d="M1169.02 1992.5L1169.02 1991.98C1169.69 1991.88 1171.7 1991.55 1173.04 1991.37C1174.38 1991.2 1175.72 1991.12 1177.06 1990.92C1178.4 1990.72 1179.74 1990.47 1181.09 1990.17C1182.43 1989.87 1183.77 1989.52 1185.11 1989.12C1186.45 1988.72 1187.79 1988.26 1189.13 1987.75C1190.47 1987.25 1191.81 1986.69 1193.15 1986.07C1194.5 1985.45 1195.84 1984.78 1197.18 1984.06C1198.52 1983.33 1199.86 1982.55 1201.2 1981.71C1202.54 1980.87 1203.88 1979.97 1205.22 1979.02C1206.56 1978.06 1207.9 1977.05 1209.25 1975.97C1210.59 1974.9 1211.93 1973.77 1213.27 1972.57C1214.61 1971.38 1215.95 1970.12 1217.29 1968.8C1218.63 1967.49 1219.97 1966.11 1221.31 1964.66C1222.65 1963.22 1224 1961.71 1225.34 1960.14C1226.68 1958.56 1228.02 1956.93 1229.36 1955.22C1230.7 1953.52 1232.04 1951.75 1233.38 1949.91C1234.72 1948.07 1236.06 1946.16 1237.41 1944.19C1238.75 1942.21 1240.09 1940.17 1241.43 1938.06C1242.77 1935.94 1244.11 1933.76 1245.45 1931.5C1246.79 1929.25 1248.13 1926.92 1249.47 1924.52C1250.81 1922.12 1252.16 1919.65 1253.5 1917.1C1254.84 1914.55 1256.18 1911.93 1257.52 1909.24C1258.86 1906.54 1260.2 1903.76 1261.54 1900.94C1262.88 1898.12 1264.22 1895.22 1265.56 1892.3C1266.91 1889.39 1268.25 1886.42 1269.59 1883.46C1270.93 1880.5 1272.27 1877.51 1273.61 1874.54C1274.95 1871.58 1276.29 1868.6 1277.63 1865.66C1278.97 1862.73 1280.32 1859.81 1281.66 1856.96C1283 1854.11 1284.34 1851.28 1285.68 1848.55C1287.02 1845.82 1288.36 1843.14 1289.7 1840.57C1291.04 1838 1292.38 1835.5 1293.72 1833.13C1295.07 1830.77 1296.41 1828.49 1297.75 1826.38C1299.09 1824.26 1300.43 1822.25 1301.77 1820.42C1303.11 1818.59 1304.45 1816.9 1305.79 1815.4C1307.13 1813.9 1308.47 1812.57 1309.82 1811.42C1311.16 1810.28 1312.5 1809.32 1313.84 1808.52C1315.18 1807.72 1316.52 1807.1 1317.86 1806.64C1319.2 1806.17 1320.54 1805.88 1321.88 1805.73C1323.23 1805.58 1324.57 1805.6 1325.91 1805.76C1327.25 1805.91 1328.59 1806.23 1329.93 1806.67C1331.27 1807.11 1332.61 1807.71 1333.95 1808.42C1335.29 1809.13 1336.63 1809.99 1337.98 1810.93C1339.32 1811.87 1340.66 1812.94 1342 1814.07C1343.34 1815.2 1344.68 1816.44 1346.02 1817.72C1347.36 1819 1348.7 1820.36 1350.04 1821.74C1351.38 1823.13 1352.73 1824.57 1354.07 1826.01C1355.41 1827.46 1356.75 1828.93 1358.09 1830.4C1359.43 1831.87 1360.77 1833.36 1362.11 1834.84C1363.45 1836.32 1364.79 1837.81 1366.14 1839.29C1367.48 1840.77 1368.82 1842.26 1370.16 1843.72C1371.5 1845.19 1372.84 1846.65 1374.18 1848.09C1375.52 1849.53 1376.86 1850.95 1378.2 1852.35C1379.54 1853.75 1380.89 1855.14 1382.23 1856.48C1383.57 1857.83 1384.91 1859.16 1386.25 1860.44C1387.59 1861.73 1388.93 1862.98 1390.27 1864.19C1391.61 1865.4 1392.95 1866.57 1394.29 1867.69C1395.64 1868.81 1396.98 1869.89 1398.32 1870.91C1399.66 1871.94 1401 1872.9 1402.34 1873.83C1403.68 1874.75 1405.02 1875.62 1406.36 1876.45C1407.7 1877.28 1409.05 1878.07 1410.39 1878.82C1411.73 1879.58 1413.07 1880.29 1414.41 1880.97C1415.75 1881.66 1417.09 1882.31 1418.43 1882.94C1419.77 1883.57 1421.11 1884.16 1422.45 1884.75C1423.8 1885.33 1425.14 1885.89 1426.48 1886.43C1427.82 1886.98 1429.16 1887.51 1430.5 1888.03C1431.84 1888.56 1433.18 1889.07 1434.52 1889.57C1435.86 1890.08 1437.2 1890.57 1438.55 1891.06C1439.89 1891.55 1441.23 1892.03 1442.57 1892.5C1443.91 1892.97 1445.25 1893.44 1446.59 1893.89C1447.93 1894.35 1449.27 1894.79 1450.61 1895.23C1451.95 1895.67 1453.3 1896.1 1454.64 1896.52C1455.98 1896.94 1457.32 1897.35 1458.66 1897.75C1460 1898.15 1461.34 1898.55 1462.68 1898.93C1464.02 1899.32 1465.36 1899.7 1466.71 1900.06C1468.05 1900.43 1469.39 1900.79 1470.73 1901.14C1472.07 1901.49 1473.41 1901.83 1474.75 1902.17C1476.09 1902.5 1477.43 1902.82 1478.77 1903.14C1480.11 1903.45 1481.46 1903.76 1482.8 1904.06C1484.14 1904.35 1485.48 1904.64 1486.82 1904.92C1488.16 1905.2 1489.5 1905.47 1490.84 1905.73C1492.18 1905.99 1493.52 1906.24 1494.86 1906.48C1496.21 1906.73 1497.55 1906.96 1498.89 1907.18C1500.23 1907.41 1501.57 1907.62 1502.91 1907.83C1504.25 1908.03 1505.59 1908.23 1506.93 1908.42C1508.27 1908.6 1509.62 1908.78 1510.96 1908.95C1512.3 1909.12 1513.64 1909.28 1514.98 1909.43C1516.32 1909.59 1517.66 1909.73 1519 1909.88C1520.34 1910.03 1521.68 1910.17 1523.02 1910.31C1524.37 1910.45 1525.71 1910.59 1527.05 1910.74C1528.39 1910.88 1529.73 1911.02 1531.07 1911.18C1532.41 1911.33 1533.75 1911.48 1535.09 1911.65C1536.43 1911.81 1537.77 1911.98 1539.12 1912.16C1540.46 1912.35 1541.8 1912.54 1543.14 1912.75C1544.48 1912.95 1545.82 1913.17 1547.16 1913.41C1548.5 1913.64 1549.84 1913.89 1551.18 1914.16C1552.53 1914.43 1553.87 1914.72 1555.21 1915.03C1556.55 1915.34 1557.89 1915.67 1559.23 1916.03C1560.57 1916.39 1561.91 1916.77 1563.25 1917.18C1564.59 1917.58 1565.93 1918.02 1567.28 1918.48C1568.62 1918.95 1569.96 1919.44 1571.3 1919.97C1572.64 1920.49 1573.98 1921.05 1575.32 1921.64C1576.66 1922.24 1578 1922.87 1579.34 1923.53C1580.68 1924.2 1582.03 1924.91 1583.37 1925.65C1584.71 1926.4 1586.05 1927.18 1587.39 1928.01C1588.73 1928.84 1590.07 1929.72 1591.41 1930.63C1592.75 1931.54 1594.09 1932.5 1595.44 1933.48C1596.78 1934.46 1598.12 1935.47 1599.46 1936.51C1600.8 1937.54 1602.14 1938.6 1603.48 1939.67C1604.82 1940.75 1606.16 1941.84 1607.5 1942.93C1608.84 1944.03 1610.19 1945.13 1611.53 1946.23C1612.87 1947.34 1614.21 1948.44 1615.55 1949.53C1616.89 1950.63 1618.23 1951.72 1619.57 1952.79C1620.91 1953.85 1622.25 1954.91 1623.59 1955.94C1624.94 1956.97 1626.28 1957.98 1627.62 1958.95C1628.96 1959.93 1630.3 1960.88 1631.64 1961.78C1632.98 1962.68 1634.32 1963.55 1635.66 1964.37C1637 1965.2 1638.35 1965.98 1639.69 1966.72C1641.03 1967.46 1642.37 1968.17 1643.71 1968.84C1645.05 1969.51 1646.39 1970.14 1647.73 1970.74C1649.07 1971.34 1650.41 1971.91 1651.75 1972.45C1653.1 1972.98 1654.44 1973.49 1655.78 1973.97C1657.12 1974.45 1658.46 1974.9 1659.8 1975.32C1661.14 1975.75 1662.48 1976.15 1663.82 1976.53C1665.16 1976.91 1666.5 1977.26 1667.85 1977.6C1669.19 1977.93 1670.53 1978.25 1671.87 1978.54C1673.21 1978.84 1674.55 1979.12 1675.89 1979.39C1677.23 1979.65 1678.57 1979.9 1679.91 1980.14C1681.26 1980.38 1682.6 1980.6 1683.94 1980.82C1685.28 1981.04 1686.62 1981.24 1687.96 1981.44C1689.3 1981.64 1690.64 1981.83 1691.98 1982.02C1693.32 1982.2 1694.66 1982.39 1696.01 1982.57C1697.35 1982.75 1698.69 1982.92 1700.03 1983.1C1701.37 1983.28 1702.71 1983.46 1704.05 1983.64C1705.39 1983.83 1706.73 1984.01 1708.07 1984.2C1709.41 1984.39 1710.76 1984.58 1712.1 1984.77C1713.44 1984.97 1714.78 1985.16 1716.12 1985.36C1717.46 1985.55 1718.8 1985.75 1720.14 1985.95C1721.48 1986.14 1722.82 1986.34 1724.17 1986.54C1725.51 1986.74 1726.85 1986.94 1728.19 1987.13C1729.53 1987.33 1730.87 1987.53 1732.21 1987.72C1733.55 1987.91 1734.89 1988.11 1736.23 1988.3C1737.57 1988.49 1738.92 1988.68 1740.26 1988.86C1741.6 1989.05 1742.94 1989.23 1744.28 1989.41C1745.62 1989.59 1746.96 1989.77 1748.3 1989.94C1749.64 1990.11 1750.98 1990.28 1752.32 1990.44C1753.67 1990.6 1755.01 1990.78 1756.35 1990.91C1757.69 1991.05 1759.7 1991.19 1760.37 1991.25L1760.37 1992.5Z"/>
<clipPath id="cp-ke-blue"><use href="#ke-blue"/></clipPath>
<path id="ke-pink" d="M1337.62 1992.5L1337.62 1991.47C1338.29 1991.29 1340.29 1990.69 1341.62 1990.35C1342.95 1990.02 1344.29 1989.75 1345.62 1989.45C1346.95 1989.16 1348.29 1988.9 1349.62 1988.58C1350.96 1988.26 1352.29 1987.94 1353.62 1987.53C1354.96 1987.12 1356.29 1986.68 1357.62 1986.12C1358.96 1985.55 1360.29 1984.93 1361.62 1984.14C1362.96 1983.36 1364.29 1982.48 1365.62 1981.41C1366.96 1980.34 1368.29 1979.15 1369.63 1977.73C1370.96 1976.31 1372.29 1974.73 1373.63 1972.89C1374.96 1971.06 1376.29 1969.03 1377.63 1966.72C1378.96 1964.4 1380.29 1961.86 1381.63 1959C1382.96 1956.14 1384.29 1952.99 1385.63 1949.58C1386.96 1946.17 1388.29 1942.45 1389.63 1938.53C1390.96 1934.62 1392.3 1930.43 1393.63 1926.06C1394.96 1921.7 1396.3 1917.1 1397.63 1912.36C1398.96 1907.63 1400.3 1902.68 1401.63 1897.64C1402.96 1892.59 1404.3 1887.37 1405.63 1882.08C1406.96 1876.79 1408.3 1871.25 1409.63 1865.89C1410.97 1860.53 1412.3 1854.68 1413.63 1849.92C1414.97 1845.16 1416.3 1840.75 1417.63 1837.32C1418.97 1833.9 1420.3 1832.39 1421.63 1829.35C1422.97 1826.32 1424.3 1822.69 1425.63 1819.09C1426.97 1815.49 1428.3 1811.26 1429.64 1807.76C1430.97 1804.27 1432.3 1801.08 1433.64 1798.1C1434.97 1795.12 1436.3 1792.43 1437.64 1789.89C1438.97 1787.35 1440.3 1785.01 1441.64 1782.87C1442.97 1780.73 1444.3 1778.78 1445.64 1777.02C1446.97 1775.27 1448.31 1773.7 1449.64 1772.33C1450.97 1770.95 1452.31 1769.76 1453.64 1768.76C1454.97 1767.75 1456.31 1766.94 1457.64 1766.3C1458.97 1765.66 1460.31 1765.21 1461.64 1764.93C1462.97 1764.64 1464.31 1764.58 1465.64 1764.58C1466.97 1764.59 1468.31 1764.78 1469.64 1764.96C1470.98 1765.15 1472.31 1765.45 1473.64 1765.68C1474.98 1765.9 1476.31 1766.19 1477.64 1766.33C1478.98 1766.47 1480.31 1766.6 1481.64 1766.52C1482.98 1766.45 1484.31 1766.29 1485.64 1765.87C1486.98 1765.44 1488.31 1764.87 1489.65 1763.96C1490.98 1763.05 1492.31 1761.91 1493.65 1760.42C1494.98 1758.92 1496.31 1757.05 1497.65 1754.99C1498.98 1752.94 1500.31 1750.54 1501.65 1748.07C1502.98 1745.6 1504.31 1742.88 1505.65 1740.18C1506.98 1737.48 1508.32 1734.62 1509.65 1731.87C1510.98 1729.12 1512.32 1726.3 1513.65 1723.67C1514.98 1721.04 1516.32 1718.44 1517.65 1716.11C1518.98 1713.79 1520.32 1711.57 1521.65 1709.71C1522.98 1707.86 1524.32 1706.19 1525.65 1704.97C1526.99 1703.75 1528.32 1702.8 1529.65 1702.38C1530.99 1701.96 1532.32 1701.9 1533.65 1702.45C1534.99 1703 1536.32 1704.01 1537.65 1705.68C1538.99 1707.36 1540.32 1709.66 1541.65 1712.5C1542.99 1715.34 1544.32 1718.82 1545.65 1722.71C1546.99 1726.59 1548.32 1731.04 1549.66 1735.8C1550.99 1740.57 1552.32 1745.81 1553.66 1751.29C1554.99 1756.76 1556.32 1762.63 1557.66 1768.65C1558.99 1774.67 1560.32 1781 1561.66 1787.41C1562.99 1793.81 1564.32 1800.44 1565.66 1807.08C1566.99 1813.71 1568.33 1820.5 1569.66 1827.21C1570.99 1833.92 1572.33 1840.71 1573.66 1847.35C1574.99 1853.98 1576.33 1860.62 1577.66 1867.04C1578.99 1873.45 1580.33 1879.79 1581.66 1885.82C1582.99 1891.86 1584.33 1897.73 1585.66 1903.25C1587 1908.77 1588.33 1914.01 1589.66 1918.94C1591 1923.87 1592.33 1928.5 1593.66 1932.83C1595 1937.16 1596.33 1941.19 1597.66 1944.93C1599 1948.67 1600.33 1952.11 1601.66 1955.27C1603 1958.42 1604.33 1961.27 1605.67 1963.85C1607 1966.42 1608.33 1968.69 1609.67 1970.72C1611 1972.75 1612.33 1974.49 1613.67 1976.04C1615 1977.59 1616.33 1978.88 1617.67 1980C1619 1981.13 1620.33 1982.02 1621.67 1982.79C1623 1983.56 1624.34 1984.14 1625.67 1984.61C1627 1985.09 1628.34 1985.4 1629.67 1985.65C1631 1985.9 1632.34 1986.02 1633.67 1986.1C1635 1986.18 1636.34 1986.18 1637.67 1986.15C1639 1986.12 1640.34 1986.04 1641.67 1985.92C1643 1985.81 1644.34 1985.65 1645.67 1985.47C1647.01 1985.29 1648.34 1985.07 1649.67 1984.83C1651.01 1984.6 1652.34 1984.33 1653.67 1984.07C1655.01 1983.8 1656.34 1983.51 1657.67 1983.22C1659.01 1982.93 1660.34 1982.63 1661.67 1982.34C1663.01 1982.05 1664.34 1981.75 1665.68 1981.48C1667.01 1981.2 1668.34 1980.93 1669.68 1980.68C1671.01 1980.42 1672.34 1980.19 1673.68 1979.96C1675.01 1979.73 1676.34 1979.52 1677.68 1979.31C1679.01 1979.11 1680.34 1978.92 1681.68 1978.74C1683.01 1978.56 1684.35 1978.39 1685.68 1978.24C1687.01 1978.08 1688.35 1977.93 1689.68 1977.8C1691.01 1977.66 1692.35 1977.53 1693.68 1977.42C1695.01 1977.3 1696.35 1977.19 1697.68 1977.09C1699.01 1976.99 1700.35 1976.9 1701.68 1976.82C1703.02 1976.74 1704.35 1976.66 1705.68 1976.59C1707.02 1976.53 1708.35 1976.47 1709.68 1976.41C1711.02 1976.36 1712.35 1976.31 1713.68 1976.27C1715.02 1976.23 1716.35 1976.2 1717.68 1976.17C1719.02 1976.14 1720.35 1976.12 1721.68 1976.1C1723.02 1976.09 1724.35 1976.08 1725.69 1976.08C1727.02 1976.08 1728.35 1976.09 1729.69 1976.11C1731.02 1976.13 1732.35 1976.16 1733.69 1976.2C1735.02 1976.24 1736.35 1976.29 1737.69 1976.35C1739.02 1976.41 1740.35 1976.49 1741.69 1976.57C1743.02 1976.66 1744.36 1976.76 1745.69 1976.87C1747.02 1976.99 1748.36 1977.11 1749.69 1977.25C1751.02 1977.4 1752.36 1977.55 1753.69 1977.72C1755.02 1977.9 1756.36 1978.09 1757.69 1978.29C1759.02 1978.5 1760.36 1978.72 1761.69 1978.96C1763.03 1979.2 1764.36 1979.46 1765.69 1979.73C1767.03 1980 1768.36 1980.28 1769.69 1980.57C1771.03 1980.86 1772.36 1981.17 1773.69 1981.47C1775.03 1981.78 1776.36 1982.1 1777.69 1982.41C1779.03 1982.72 1780.36 1983.04 1781.7 1983.36C1783.03 1983.67 1784.36 1983.98 1785.7 1984.29C1787.03 1984.6 1788.36 1984.9 1789.7 1985.2C1791.03 1985.49 1792.36 1985.77 1793.7 1986.05C1795.03 1986.32 1796.36 1986.58 1797.7 1986.82C1799.03 1987.06 1800.36 1987.29 1801.7 1987.5C1803.03 1987.7 1804.37 1987.89 1805.7 1988.05C1807.03 1988.22 1808.37 1988.36 1809.7 1988.48C1811.03 1988.61 1812.37 1988.71 1813.7 1988.8C1815.03 1988.9 1816.37 1988.98 1817.7 1989.06C1819.03 1989.13 1820.37 1989.2 1821.7 1989.27C1823.04 1989.34 1824.37 1989.4 1825.7 1989.48C1827.04 1989.55 1828.37 1989.62 1829.7 1989.71C1831.04 1989.8 1832.37 1989.89 1833.7 1990.01C1835.04 1990.12 1836.37 1990.24 1837.7 1990.39C1839.04 1990.54 1840.37 1990.72 1841.71 1990.9C1843.04 1991.08 1845.04 1991.38 1845.71 1991.47L1845.71 1992.5Z"/>
<clipPath id="cp-ke-pink"><use href="#ke-pink"/></clipPath>
<path id="ke-grey" d="M1166.48 1992.5L1166.48 1991.98C1167.15 1992.01 1169.17 1992.2 1170.51 1992.15C1171.85 1992.11 1173.2 1991.95 1174.54 1991.7C1175.88 1991.44 1177.22 1991.07 1178.57 1990.61C1179.91 1990.16 1181.25 1989.6 1182.59 1988.97C1183.94 1988.33 1185.28 1987.6 1186.62 1986.81C1187.96 1986.01 1189.31 1985.13 1190.65 1984.2C1191.99 1983.27 1193.34 1982.26 1194.68 1981.2C1196.02 1980.14 1197.36 1979.02 1198.71 1977.87C1200.05 1976.71 1201.39 1975.49 1202.73 1974.25C1204.08 1973.01 1205.42 1971.73 1206.76 1970.43C1208.1 1969.12 1209.45 1967.78 1210.79 1966.44C1212.13 1965.09 1213.48 1963.72 1214.82 1962.35C1216.16 1960.98 1217.5 1959.59 1218.85 1958.21C1220.19 1956.83 1221.53 1955.48 1222.87 1954.06C1224.22 1952.65 1225.56 1951.25 1226.9 1949.72C1228.24 1948.19 1229.59 1946.62 1230.93 1944.88C1232.27 1943.14 1233.62 1941.32 1234.96 1939.27C1236.3 1937.22 1237.64 1935.04 1238.99 1932.58C1240.33 1930.13 1241.67 1927.42 1243.01 1924.56C1244.36 1921.7 1245.7 1918.51 1247.04 1915.42C1248.38 1912.33 1249.73 1909.04 1251.07 1906C1252.41 1902.96 1253.76 1899.88 1255.1 1897.18C1256.44 1894.47 1257.78 1891.89 1259.13 1889.79C1260.47 1887.68 1261.81 1885.83 1263.15 1884.56C1264.5 1883.3 1265.84 1882.4 1267.18 1882.2C1268.52 1882.01 1269.87 1882.41 1271.21 1883.41C1272.55 1884.41 1273.9 1886.25 1275.24 1888.19C1276.58 1890.13 1277.92 1892.7 1279.27 1895.04C1280.61 1897.38 1281.95 1899.96 1283.29 1902.22C1284.64 1904.49 1285.98 1906.66 1287.32 1908.62C1288.66 1910.58 1290.01 1912.39 1291.35 1913.97C1292.69 1915.55 1294.04 1916.95 1295.38 1918.09C1296.72 1919.23 1298.06 1920.17 1299.41 1920.81C1300.75 1921.44 1302.09 1921.84 1303.43 1921.9C1304.78 1921.96 1306.12 1921.74 1307.46 1921.15C1308.81 1920.55 1310.15 1919.65 1311.49 1918.32C1312.83 1917 1314.18 1915.33 1315.52 1913.21C1316.86 1911.08 1318.2 1908.57 1319.55 1905.56C1320.89 1902.56 1322.23 1899.09 1323.57 1895.17C1324.92 1891.26 1326.26 1886.69 1327.6 1882.09C1328.95 1877.49 1330.29 1872.39 1331.63 1867.59C1332.97 1862.79 1334.32 1857.82 1335.66 1853.28C1337 1848.75 1338.34 1844.69 1339.69 1840.4C1341.03 1836.11 1342.37 1832.23 1343.71 1827.53C1345.06 1822.83 1346.4 1817.91 1347.74 1812.19C1349.09 1806.48 1350.43 1799.97 1351.77 1793.25C1353.11 1786.52 1354.46 1779.16 1355.8 1771.83C1357.14 1764.51 1358.48 1756.78 1359.83 1749.31C1361.17 1741.84 1362.51 1734.19 1363.85 1727.02C1365.2 1719.86 1366.54 1712.84 1367.88 1706.33C1369.23 1699.82 1370.57 1693.72 1371.91 1687.97C1373.25 1682.21 1374.6 1676.86 1375.94 1671.8C1377.28 1666.74 1378.62 1662.05 1379.97 1657.62C1381.31 1653.18 1382.65 1649.07 1383.99 1645.19C1385.34 1641.32 1386.68 1637.52 1388.02 1634.37C1389.37 1631.23 1390.71 1628.18 1392.05 1626.33C1393.39 1624.47 1394.74 1623.3 1396.08 1623.25C1397.42 1623.2 1398.76 1624.04 1400.11 1626.02C1401.45 1628 1402.79 1631.34 1404.13 1635.12C1405.48 1638.9 1406.82 1643.95 1408.16 1648.7C1409.51 1653.44 1410.85 1658.29 1412.19 1663.58C1413.53 1668.88 1414.88 1674.21 1416.22 1680.46C1417.56 1686.71 1418.9 1693.45 1420.25 1701.07C1421.59 1708.7 1422.93 1717.82 1424.27 1726.21C1425.62 1734.59 1426.96 1743.17 1428.3 1751.4C1429.65 1759.64 1430.99 1767.51 1432.33 1775.6C1433.67 1783.69 1435.02 1791.9 1436.36 1799.94C1437.7 1807.97 1439.04 1815.99 1440.39 1823.8C1441.73 1831.62 1443.07 1839.22 1444.41 1846.82C1445.76 1854.42 1447.1 1862.07 1448.44 1869.43C1449.79 1876.79 1451.13 1884.34 1452.47 1891C1453.81 1897.66 1455.16 1903.88 1456.5 1909.39C1457.84 1914.9 1459.18 1919.71 1460.53 1924.05C1461.87 1928.39 1463.21 1932.1 1464.55 1935.42C1465.9 1938.75 1467.24 1941.53 1468.58 1943.99C1469.93 1946.46 1471.27 1948.46 1472.61 1950.22C1473.95 1951.98 1475.3 1953.36 1476.64 1954.58C1477.98 1955.79 1479.32 1956.7 1480.67 1957.53C1482.01 1958.36 1483.35 1958.97 1484.7 1959.55C1486.04 1960.13 1487.38 1960.57 1488.72 1961C1490.07 1961.43 1491.41 1961.78 1492.75 1962.15C1494.09 1962.53 1495.44 1962.85 1496.78 1963.26C1498.12 1963.66 1499.46 1964.07 1500.81 1964.58C1502.15 1965.09 1503.49 1965.68 1504.84 1966.29C1506.18 1966.91 1507.52 1967.6 1508.86 1968.25C1510.21 1968.91 1511.55 1969.61 1512.89 1970.23C1514.23 1970.85 1515.58 1971.48 1516.92 1971.99C1518.26 1972.5 1519.6 1972.96 1520.95 1973.31C1522.29 1973.67 1523.63 1973.94 1524.98 1974.15C1526.32 1974.36 1527.66 1974.48 1529 1974.57C1530.35 1974.66 1531.69 1974.69 1533.03 1974.69C1534.37 1974.7 1535.72 1974.66 1537.06 1974.61C1538.4 1974.56 1539.74 1974.48 1541.09 1974.41C1542.43 1974.34 1543.77 1974.26 1545.12 1974.2C1546.46 1974.14 1547.8 1974.09 1549.14 1974.07C1550.49 1974.06 1551.83 1974.06 1553.17 1974.13C1554.51 1974.19 1555.86 1974.3 1557.2 1974.45C1558.54 1974.61 1559.88 1974.82 1561.23 1975.07C1562.57 1975.32 1563.91 1975.61 1565.26 1975.94C1566.6 1976.26 1567.94 1976.63 1569.28 1977.02C1570.63 1977.41 1571.97 1977.83 1573.31 1978.27C1574.65 1978.71 1576 1979.18 1577.34 1979.65C1578.68 1980.13 1580.02 1980.62 1581.37 1981.12C1582.71 1981.62 1584.05 1982.13 1585.4 1982.64C1586.74 1983.15 1588.08 1983.67 1589.42 1984.17C1590.77 1984.68 1592.11 1985.19 1593.45 1985.67C1594.79 1986.16 1596.14 1986.65 1597.48 1987.1C1598.82 1987.56 1600.16 1988.01 1601.51 1988.42C1602.85 1988.83 1604.19 1989.23 1605.54 1989.59C1606.88 1989.94 1608.22 1990.28 1609.56 1990.56C1610.91 1990.85 1612.25 1991.15 1613.59 1991.3C1614.93 1991.46 1616.95 1991.45 1617.62 1991.47L1617.62 1992.5Z"/>
<clipPath id="cp-ke-grey"><use href="#ke-grey"/></clipPath>
</defs>
<use href="#ke-blue" fill="#E0E6F8"/>
<use href="#ke-pink" fill="#F0C8C8"/>
<use href="#ke-grey" fill="#BCB7B5"/>
<use href="#ke-pink" clip-path="url(#cp-ke-blue)" fill="#CDB0C8"/>
<use href="#ke-grey" clip-path="url(#cp-ke-pink)" fill="#B98784"/>
<use href="#ke-grey" clip-path="url(#cp-ke-blue)" fill="#A8B4CF"/>
<g clip-path="url(#cp-ke-blue)"><use href="#ke-grey" clip-path="url(#cp-ke-pink)" fill="#A38396"/></g>
<line x1="1419.02" y1="1567.5" x2="1419.02" y2="1992.5" stroke="#7B99D5" stroke-width="4.1"/>
<line x1="1643.83" y1="1567.5" x2="1643.83" y2="1992.5" stroke="#000" stroke-width="4.1"/>
<line x1="1716.49" y1="1567.5" x2="1716.49" y2="1992.5" stroke="#AE261A" stroke-width="4.1"/>
</g>
<rect x="1138" y="1567.5" width="854.8" height="425" fill="none" stroke="#000" stroke-width="2.2"/>
<text x="1138" y="2034.7" font-family="'DejaVu Sans', 'Liberation Sans', sans-serif" font-size="28.2" fill="#000" text-anchor="middle">−7</text>
<text x="1351.7" y="2034.7" font-family="'DejaVu Sans', 'Liberation Sans', sans-serif" font-size="28.2" fill="#000" text-anchor="middle">−6</text>
<text x="1565.4" y="2034.7" font-family="'DejaVu Sans', 'Liberation Sans', sans-serif" font-size="28.2" fill="#000" text-anchor="middle">−5</text>
<text x="1779.1" y="2034.7" font-family="'DejaVu Sans', 'Liberation Sans', sans-serif" font-size="28.2" fill="#000" text-anchor="middle">−4</text>
<text x="1992.8" y="2034.7" font-family="'DejaVu Sans', 'Liberation Sans', sans-serif" font-size="28.2" fill="#000" text-anchor="middle">−3</text>
<text x="1118.4" y="2002.9" font-family="'DejaVu Sans', 'Liberation Sans', sans-serif" font-size="28.2" fill="#000" text-anchor="end">0</text>
<text x="1118.4" y="1790.4" font-family="'DejaVu Sans', 'Liberation Sans', sans-serif" font-size="28.2" fill="#000" text-anchor="end">1</text>
<text x="1118.4" y="1577.9" font-family="'DejaVu Sans', 'Liberation Sans', sans-serif" font-size="28.2" fill="#000" text-anchor="end">2</text>
<path d="M1138 1992.5v9.8M1351.7 1992.5v9.8M1565.4 1992.5v9.8M1779.1 1992.5v9.8M1992.8 1992.5v9.8M1138 1992.5h-9.8M1138 1780h-9.8M1138 1567.5h-9.8" stroke="#000" stroke-width="2.2" fill="none"/>
<text x="1565.4" y="2074.8" font-family="'DejaVu Sans', 'Liberation Sans', sans-serif" font-size="28.25" fill="#000" text-anchor="middle">average loglikelihood</text>
<text x="1047.8" y="1833.8" font-family="'Liberation Sans', sans-serif" font-size="35" fill="#111" textLength="119.5" lengthAdjust="spacingAndGlyphs" transform="rotate(-90 1047.8 1833.8)" stroke="#111" stroke-width="0.3">Density</text>
<text x="1025.22" y="1557.9" font-family="'Liberation Sans', sans-serif" font-size="66" fill="#111" font-weight="bold" textLength="34.86" lengthAdjust="spacingAndGlyphs">e</text>
</g>
<g id="annot-b">
<text x="180.4" y="1092.2" font-family="'DejaVu Sans Mono', 'Liberation Mono', monospace" font-size="33.5" fill="#B2281E" textLength="100.75" lengthAdjust="spacingAndGlyphs">short</text>
<text x="266.5" y="1140.4" font-family="'DejaVu Sans Mono', 'Liberation Mono', monospace" font-size="33.5" fill="#000" textLength="141.05" lengthAdjust="spacingAndGlyphs">control</text>
<text x="415" y="1088.9" font-family="'DejaVu Sans Mono', 'Liberation Mono', monospace" font-size="33.5" fill="#7D9AD6" textLength="80.6" lengthAdjust="spacingAndGlyphs">long</text>
<text x="196.3" y="1288.3" font-family="'DejaVu Sans Mono', 'Liberation Mono', monospace" font-size="33.5" fill="#8FA9DC" textLength="80.6" lengthAdjust="spacingAndGlyphs">long</text>
<text x="196.3" y="1325.6" font-family="'DejaVu Sans Mono', 'Liberation Mono', monospace" font-size="33.5" fill="#8FA9DC" textLength="141.05" lengthAdjust="spacingAndGlyphs">neutral</text>
<text x="196.3" y="1362.8" font-family="'DejaVu Sans Mono', 'Liberation Mono', monospace" font-size="33.5" fill="#8FA9DC" textLength="100.75" lengthAdjust="spacingAndGlyphs">sites</text>
<text x="528.5" y="1088.2" font-family="'DejaVu Sans Mono', 'Liberation Mono', monospace" font-size="33.5" fill="#F08B8B" textLength="261.95" lengthAdjust="spacingAndGlyphs">short neutral</text>
<text x="528.5" y="1126" font-family="'DejaVu Sans Mono', 'Liberation Mono', monospace" font-size="33.5" fill="#F08B8B" textLength="100.75" lengthAdjust="spacingAndGlyphs">sites</text>
<text x="762.4" y="1236.8" font-family="'DejaVu Sans Mono', 'Liberation Mono', monospace" font-size="33.5" fill="#77716F" textLength="141.05" lengthAdjust="spacingAndGlyphs">control</text>
<text x="762.4" y="1274.1" font-family="'DejaVu Sans Mono', 'Liberation Mono', monospace" font-size="33.5" fill="#77716F" textLength="141.05" lengthAdjust="spacingAndGlyphs">neutral</text>
<text x="762.4" y="1311.2" font-family="'DejaVu Sans Mono', 'Liberation Mono', monospace" font-size="33.5" fill="#77716F" textLength="100.75" lengthAdjust="spacingAndGlyphs">sites</text>
</g>
</svg>
</body>
</html>
